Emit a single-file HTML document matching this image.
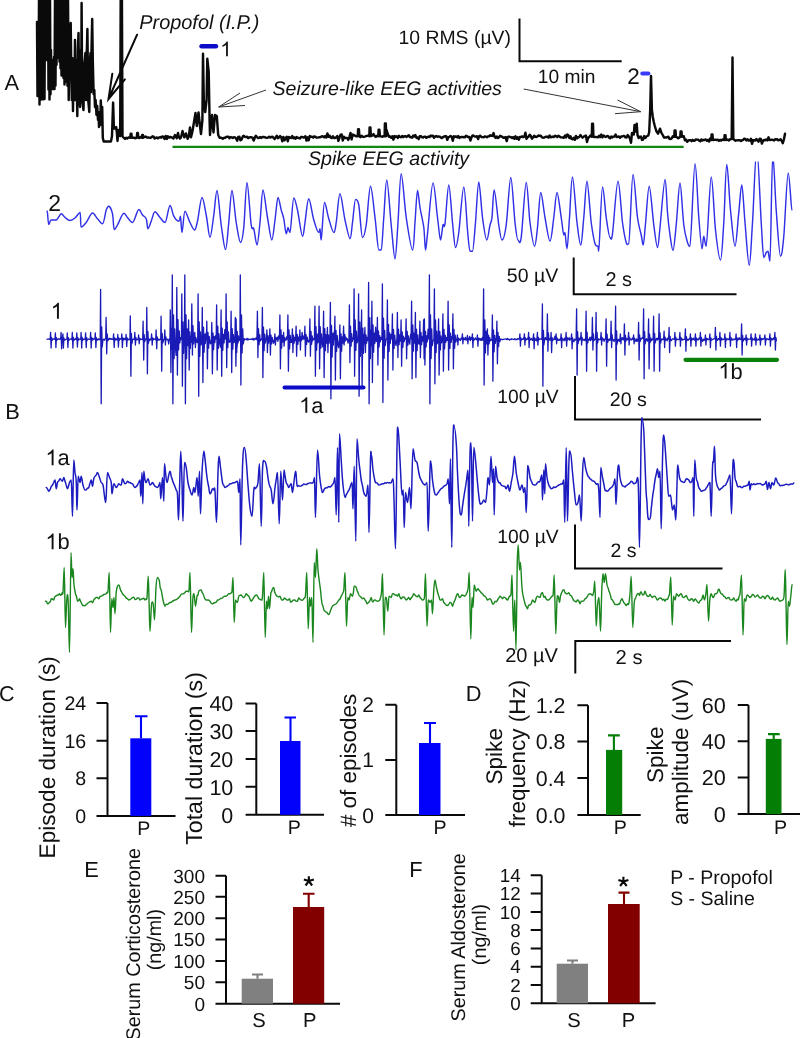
<!DOCTYPE html>
<html><head><meta charset="utf-8"><title>Figure</title>
<style>
html,body{margin:0;padding:0;background:#fff;}
body{width:800px;height:1038px;overflow:hidden;}
svg{display:block;font-family:"Liberation Sans",sans-serif;will-change:transform;}
text{text-rendering:geometricPrecision;}
</style></head><body>
<svg width="800" height="1038" viewBox="0 0 800 1038">
<rect width="800" height="1038" fill="#ffffff"/>
<path d="M37.0,22.0 L37.5,96.0 L38.0,22.0 L38.5,96.0 L39.0,-2.0 L39.5,104.6 L40.0,-2.0 L40.5,99.8 L41.0,-2.0 L41.5,75.0 L42.0,-2.0 L42.5,99.2 L43.0,-2.0 L43.5,99.3 L44.0,-2.0 L44.5,99.0 L45.0,-2.0 L45.5,60.0 L46.0,-2.0 L46.5,60.0 L47.0,-2.0 L47.5,60.0 L48.0,-2.0 L48.5,89.5 L49.0,-2.0 L49.5,99.4 L50.0,-2.0 L50.5,94.2 L51.0,50.0 L51.5,89.0 L52.0,60.0 L52.5,89.0 L53.0,64.3 L53.5,89.0 L54.0,56.9 L54.5,89.0 L55.0,-2.0 L55.5,85.5 L56.0,-2.0 L56.5,64.8 L57.0,-2.0 L57.5,57.8 L58.0,-2.0 L58.5,57.8 L59.0,-2.0 L59.5,61.6 L60.0,-2.0 L60.5,68.3 L61.0,-2.0 L61.5,75.5 L62.0,-2.0 L62.5,75.0 L63.0,-2.0 L63.5,77.9 L64.0,-2.0 L64.5,84.4 L65.0,-2.0 L65.5,81.8 L66.0,-2.0 L66.5,80.0 L67.0,-2.0 L67.5,85.8 L68.0,-2.0 L68.7,100.0 L69.3,60.0 L70.0,30.0 L70.7,23.0 L71.3,70.0 L71.8,100.0 L72.3,58.0 L73.0,111.0 L73.6,60.0 L74.3,100.0 L75.0,40.0 L75.7,100.0 L76.3,60.0 L77.3,116.0 L77.9,50.0 L78.5,33.0 L79.2,95.0 L80.0,107.0 L80.7,50.0 L81.2,100.0 L81.6,3.0 L82.2,100.0 L83.5,110.0 L84.2,65.0 L85.4,53.0 L86.0,100.0 L86.6,60.0 L87.4,29.0 L88.2,100.0 L89.3,112.0 L90.0,60.0 L90.5,53.0 L91.0,92.0 L91.5,50.0 L92.2,19.0 L92.8,60.0 L93.6,94.0 L94.3,90.0 L95.0,107.0 L95.6,100.0 L96.5,115.0 L97.2,106.0 L98.0,120.0 L98.5,112.0 L99.0,127.0 L99.8,118.0 L100.3,125.0 L100.8,100.4 L101.4,118.0 L101.9,123.0 L102.2,107.0 L102.8,138.0 L103.7,141.4 L111.0,141.4 L112.0,136.0 L113.1,102.6 L113.9,128.6 L115.3,128.6 L116.2,127.0 L116.8,132.0 L117.5,141.0 L118.6,130.0 L119.5,135.8 L120.2,136.0 L120.7,-3.0 L121.9,-3.0 L122.5,136.5 L125.0,139.0 L126.1,137.8 L127.2,138.6 L128.3,137.5 L129.4,137.5 L130.3,137.7 L130.7,133.7 L131.4,133.7 L131.8,137.7 L133.8,137.7 L134.9,138.2 L136.8,137.7 L137.2,133.0 L137.9,133.0 L138.3,137.7 L139.3,138.1 L140.4,137.0 L141.8,137.7 L142.2,135.0 L142.9,135.0 L143.3,137.7 L144.8,136.8 L145.9,136.6 L147.0,137.6 L148.1,137.5 L149.2,137.6 L150.3,137.9 L151.4,137.4 L152.5,136.3 L153.6,136.7 L154.7,138.5 L155.8,137.9 L156.9,137.5 L158.0,138.4 L159.1,137.5 L160.2,137.0 L161.3,137.7 L162.4,136.4 L163.5,136.9 L164.6,139.0 L165.7,136.0 L166.8,138.9 L167.9,136.3 L169.0,137.6 L170.1,136.9 L171.2,137.3 L172.3,137.6 L173.4,138.5 L175.0,135.0 L176.7,138.1 L178.0,133.0 L178.9,137.1 L180.0,138.6 L181.1,137.2 L182.5,131.0 L184.4,137.3 L186.0,133.5 L187.7,138.8 L188.8,136.1 L190.0,127.5 L191.0,137.3 L192.5,131.0 L195.5,113.0 L196.8,126.0 L198.5,112.5 L200.0,126.0 L201.0,134.0 L202.4,120.0 L203.0,53.7 L203.8,100.0 L205.2,112.0 L206.6,100.0 L207.3,58.7 L208.7,72.0 L209.6,120.0 L210.0,135.0 L212.0,115.0 L213.5,132.5 L215.0,115.0 L216.8,116.0 L218.2,135.0 L219.6,137.7 L220.7,137.6 L221.8,138.1 L222.9,138.8 L224.0,137.8 L225.1,137.9 L226.2,137.0 L227.3,136.8 L228.4,136.7 L229.5,138.2 L230.6,137.1 L231.7,137.4 L232.8,138.0 L233.9,137.3 L235.0,137.4 L236.1,138.4 L237.2,140.7 L238.3,136.9 L239.4,136.8 L240.5,140.3 L241.6,139.5 L242.7,136.6 L243.8,135.8 L244.9,136.9 L246.0,137.1 L247.1,136.8 L248.2,138.1 L249.3,137.4 L250.4,137.2 L251.5,137.2 L252.6,137.9 L253.7,140.5 L254.8,137.7 L255.9,135.7 L257.0,137.1 L258.1,138.0 L259.2,137.7 L260.3,137.1 L261.4,138.0 L262.5,136.9 L263.6,137.0 L264.7,137.3 L265.8,137.6 L266.9,137.9 L268.0,137.6 L269.1,136.8 L270.2,137.6 L271.3,136.9 L272.4,136.8 L273.5,137.7 L274.6,139.1 L275.7,137.4 L276.8,135.8 L277.9,138.1 L279.0,137.4 L280.1,136.1 L281.2,137.2 L282.3,141.2 L283.4,136.9 L284.5,140.3 L285.6,138.3 L286.7,136.8 L287.8,141.3 L288.9,136.9 L290.0,137.7 L291.1,137.9 L292.2,136.0 L293.3,138.3 L294.4,137.4 L295.5,138.8 L296.6,137.1 L297.7,137.8 L298.8,138.0 L299.9,138.5 L301.0,137.0 L302.1,136.9 L303.2,137.5 L304.3,137.2 L305.4,136.3 L306.5,140.6 L307.6,137.3 L308.7,140.3 L309.8,136.0 L310.9,136.8 L312.0,136.8 L313.1,137.6 L314.2,136.4 L315.3,136.7 L316.4,137.6 L317.5,137.6 L318.6,137.4 L319.7,137.2 L320.8,137.1 L321.9,136.3 L323.0,136.4 L324.1,137.3 L325.2,136.1 L326.3,137.5 L327.4,133.5 L328.5,136.8 L329.6,135.7 L330.7,137.6 L331.8,138.0 L332.9,136.3 L334.0,137.9 L335.1,137.9 L336.2,137.3 L337.3,136.0 L338.4,140.9 L339.5,137.6 L340.6,134.6 L341.7,134.4 L342.8,140.5 L343.9,136.7 L345.0,138.0 L346.1,137.9 L347.2,137.9 L348.3,139.9 L349.4,137.1 L350.5,133.0 L351.6,139.4 L352.7,134.6 L353.8,135.0 L354.9,135.7 L356.0,136.2 L357.8,136.2 L358.1,129.3 L358.9,129.3 L359.4,136.2 L360.4,137.2 L361.5,135.7 L362.6,136.7 L363.7,136.9 L364.8,136.6 L365.9,136.2 L367.0,135.8 L368.1,135.8 L369.3,136.2 L369.6,127.5 L370.4,127.5 L370.9,136.2 L372.5,135.5 L373.6,134.1 L374.7,136.0 L375.8,136.9 L376.9,135.8 L378.3,136.2 L378.6,129.8 L379.4,129.8 L379.9,136.2 L381.3,136.4 L382.4,136.7 L383.5,136.0 L384.6,136.2 L384.9,123.5 L385.8,123.5 L386.2,136.2 L386.6,130.0 L387.6,133.5 L389.0,136.7 L390.1,136.5 L391.2,137.8 L392.3,136.3 L393.4,139.7 L394.5,136.1 L395.6,136.9 L396.7,136.3 L397.8,137.9 L398.9,135.9 L400.0,136.9 L401.1,137.2 L402.2,136.0 L403.3,137.2 L404.4,136.2 L405.5,136.3 L406.6,136.9 L407.7,136.0 L408.8,135.2 L409.9,137.0 L411.0,137.3 L412.1,137.7 L413.2,135.6 L414.3,136.5 L415.4,135.1 L416.5,137.9 L417.6,137.5 L418.7,139.1 L419.8,136.3 L420.9,136.1 L422.0,137.1 L423.1,137.5 L424.2,136.6 L425.3,136.6 L426.4,137.8 L427.5,137.1 L428.6,136.6 L429.7,137.0 L430.8,135.6 L431.9,136.1 L433.0,135.8 L434.1,137.8 L435.2,136.5 L436.3,136.1 L437.4,136.8 L438.5,136.4 L439.6,136.6 L440.7,137.4 L441.8,138.1 L442.9,137.2 L444.0,136.6 L445.1,136.1 L446.2,136.3 L447.3,139.8 L448.4,137.2 L449.5,136.8 L450.6,135.9 L451.7,136.7 L452.8,140.7 L453.9,136.3 L455.0,136.8 L456.1,136.4 L457.2,137.4 L458.3,136.0 L459.4,137.9 L460.5,137.1 L461.6,137.0 L462.7,137.0 L463.8,137.2 L464.9,137.3 L466.0,135.7 L467.1,136.4 L468.2,137.1 L469.3,137.0 L470.4,140.5 L471.5,137.3 L472.6,135.4 L473.7,135.9 L474.8,136.5 L475.9,136.6 L477.0,136.3 L478.1,139.1 L479.2,136.1 L480.3,135.7 L481.4,137.0 L482.5,137.1 L483.6,137.3 L484.7,136.4 L485.8,136.6 L486.9,137.2 L488.0,136.4 L489.1,136.2 L490.2,135.3 L491.3,135.8 L492.4,135.9 L493.5,133.1 L494.6,136.9 L495.7,137.9 L496.8,136.5 L497.9,138.0 L499.0,137.2 L500.1,135.8 L501.2,136.5 L502.3,136.8 L503.4,137.8 L504.5,137.5 L505.6,137.0 L506.7,141.1 L507.8,137.0 L508.9,136.5 L510.0,137.0 L511.1,137.3 L512.2,138.1 L513.3,137.1 L514.4,138.7 L515.5,136.4 L516.6,138.8 L517.7,137.2 L518.8,139.7 L519.9,136.9 L521.0,136.9 L522.1,136.4 L523.2,137.1 L524.3,136.7 L525.4,132.7 L526.5,138.9 L527.6,137.4 L528.7,136.5 L529.8,134.7 L530.9,136.3 L532.0,138.7 L533.1,137.5 L534.2,135.7 L535.3,136.9 L536.4,137.0 L537.5,136.4 L538.6,135.5 L539.7,135.9 L540.8,135.8 L541.9,137.3 L543.0,137.7 L544.1,137.6 L545.2,137.0 L546.3,136.7 L547.4,136.6 L548.5,137.7 L549.6,135.5 L550.7,137.2 L551.8,137.0 L552.9,136.6 L554.0,137.0 L555.1,135.8 L556.2,136.1 L557.3,137.0 L558.4,135.7 L559.5,136.5 L560.6,137.3 L561.7,137.4 L562.8,137.5 L563.9,137.8 L565.0,135.4 L566.1,137.4 L567.2,134.6 L568.3,135.2 L569.4,138.1 L570.5,136.4 L571.6,138.9 L572.7,139.3 L573.8,137.8 L574.9,139.8 L576.0,135.9 L577.1,138.3 L578.2,137.3 L579.3,137.0 L580.4,135.1 L581.5,136.5 L582.6,137.6 L583.7,136.6 L584.8,136.1 L585.9,135.5 L587.0,142.0 L588.1,137.8 L589.2,137.1 L590.3,135.6 L591.8,136.8 L592.1,123.7 L593.0,123.7 L593.4,136.8 L594.7,137.0 L595.8,137.0 L596.9,137.1 L598.0,137.3 L599.1,135.7 L600.2,137.1 L601.3,134.6 L602.4,137.4 L603.5,135.5 L604.6,136.5 L605.7,137.0 L606.8,136.1 L607.9,135.9 L609.0,137.5 L610.1,138.3 L611.2,136.5 L612.3,137.4 L613.4,136.6 L614.5,136.6 L615.6,134.6 L616.7,137.1 L617.8,136.9 L618.9,136.5 L620.0,137.8 L621.1,136.4 L622.2,136.5 L623.3,136.0 L624.4,136.0 L625.5,137.4 L626.6,137.5 L627.7,135.1 L628.8,136.5 L629.9,138.5 L631.0,142.7 L632.0,133.0 L633.8,134.5 L634.5,125.0 L635.3,131.5 L636.7,123.7 L637.5,135.0 L638.7,138.1 L639.8,136.7 L640.9,136.6 L642.0,139.9 L643.1,139.5 L644.2,136.1 L645.3,138.0 L646.4,136.5 L648.3,135.5 L649.2,132.0 L650.2,110.0 L651.0,76.0 L651.9,110.0 L652.8,117.0 L653.8,122.0 L654.8,126.0 L656.3,131.0 L658.0,133.7 L660.0,128.7 L661.3,132.5 L663.0,135.5 L664.0,137.5 L665.1,137.4 L666.2,137.5 L667.3,137.1 L668.4,136.7 L669.5,138.9 L670.6,139.1 L671.7,138.3 L672.8,136.3 L674.3,136.8 L674.6,130.5 L675.5,130.5 L675.9,136.8 L677.2,137.3 L678.3,138.2 L680.3,136.8 L680.6,131.5 L681.5,131.5 L681.9,136.8 L683.8,136.2 L684.9,140.2 L686.0,139.6 L687.1,141.8 L688.2,140.6 L689.3,140.1 L690.4,140.1 L691.5,141.1 L692.6,139.9 L693.7,140.7 L694.8,140.5 L695.9,139.5 L697.0,139.6 L698.1,139.7 L699.2,140.6 L700.3,141.3 L701.4,139.5 L702.5,140.5 L703.6,139.9 L704.7,139.9 L705.8,139.4 L706.9,140.8 L708.0,139.8 L709.1,141.5 L710.2,138.5 L711.3,140.0 L711.6,134.5 L712.5,134.5 L712.9,140.0 L714.6,139.8 L715.7,139.8 L716.8,140.0 L717.9,139.8 L719.0,140.7 L720.1,139.9 L721.2,140.6 L722.3,139.5 L724.3,140.0 L724.6,135.3 L725.5,135.3 L725.9,140.0 L727.8,139.6 L728.9,140.5 L730.0,139.3 L731.7,139.0 L732.5,57.5 L733.3,139.0 L735.5,140.7 L736.6,140.3 L737.7,140.4 L738.8,140.2 L739.9,140.2 L741.0,140.9 L742.1,140.2 L743.2,139.9 L744.3,138.7 L745.4,139.0 L746.5,140.4 L747.6,139.4 L748.7,140.6 L749.8,140.5 L750.9,138.8 L752.0,143.8 L753.1,140.1 L754.2,140.2 L755.3,140.5 L756.4,139.1 L757.5,140.4 L758.6,141.6 L759.7,138.7 L760.8,138.9 L761.9,143.6 L763.0,140.8 L764.1,140.0 L765.2,140.3 L766.3,139.4 L767.4,140.4 L768.5,137.3 L769.6,139.9 L770.7,139.9 L771.8,139.7 L772.9,139.9 L774.0,140.5 L775.1,139.3 L776.2,139.5 L777.3,139.3 L778.4,140.3 L779.5,139.8 L780.6,139.3 L781.7,140.9 L782.8,143.2 L783.9,139.5 L785.0,133.7" fill="none" stroke="#0a0a0a" stroke-width="2.45" stroke-linejoin="round" stroke-linecap="round" />
<path d="M137.1,34.7 L108.5,99 M112.3,73.8 L108.5,99 L124.9,79.4" fill="none" stroke="#0a0a0a" stroke-width="2" stroke-linecap="round"/>
<path d="M266,90 L218.7,107 M240,93 L218.7,107 L245,105.5" fill="none" stroke="#333" stroke-width="1"/>
<path d="M523.7,89 L640.7,111.7 M617.5,100 L640.7,111.7 L615,113.7" fill="none" stroke="#333" stroke-width="1"/>
<line x1="201.5" y1="46.3" x2="216" y2="46.3" stroke="#0c0cc8" stroke-width="4.4" stroke-linecap="round"/>
<line x1="642.3" y1="73.4" x2="648.4" y2="73.4" stroke="#3a3aff" stroke-width="4" stroke-linecap="round"/>
<line x1="172.5" y1="146.9" x2="683.7" y2="146.9" stroke="#128612" stroke-width="2.1"/>
<path d="M519.5,18.5 V61.2 H621.7" fill="none" stroke="#0a0a0a" stroke-width="2"/>
<text x="4.5" y="90" font-size="21.8" text-anchor="start" fill="#111" >A</text>
<text x="139.3" y="28.7" font-size="19.9" text-anchor="start" fill="#111" font-style="italic" >Propofol (I.P.)</text>
<path transform="translate(220.2,56.3) scale(0.01006,-0.01006)" d="M763 0H583V1147Q518 1085 412.5 1023T223 930V1104Q373 1174.5 485 1275T644 1466H763Z" fill="#111"/>
<text x="272.5" y="95" font-size="19.57" text-anchor="start" fill="#111" font-style="italic" >Seizure-like EEG activities</text>
<text x="308" y="164.6" font-size="19.6" text-anchor="start" fill="#111" font-style="italic" >Spike EEG activity</text>
<text x="398.5" y="44" font-size="19.4" text-anchor="start" fill="#111" >10 RMS (µV)</text>
<text x="537.8" y="82.8" font-size="19.2" text-anchor="start" fill="#111" >10 min</text>
<text x="627.3" y="83.5" font-size="22.5" text-anchor="start" fill="#111" >2</text>
<clipPath id="c2"><rect x="0" y="161.6" width="800" height="200"/></clipPath>
<g clip-path="url(#c2)"><path d="M47.0,211.2 C47.1,211.2 47.2,210.8 47.5,213.0 C47.8,215.2 48.1,224.5 48.8,224.5 C49.4,224.5 50.0,220.0 51.2,220.0 C52.5,220.0 54.6,220.0 56.2,220.0 C57.9,220.0 59.8,213.8 61.2,213.8 C62.7,213.8 63.5,216.4 65.0,217.5 C66.5,218.6 68.3,220.5 70.0,220.5 C71.7,220.5 73.3,219.3 75.0,218.0 C76.7,216.7 79.0,212.5 80.0,212.5 C81.0,212.5 80.2,227.0 81.2,227.0 C82.3,227.0 84.4,224.8 86.2,222.5 C88.1,220.2 90.6,213.0 92.5,213.0 C94.4,213.0 95.8,217.0 97.5,218.8 C99.2,220.5 101.0,223.8 102.5,223.8 C104.0,223.8 105.2,212.9 106.2,210.0 C107.3,207.1 107.7,206.2 108.8,206.2 C109.8,206.2 111.6,209.9 112.5,213.8 C113.4,217.6 113.4,229.5 114.2,229.5 C115.1,229.5 115.9,227.7 117.5,225.0 C119.1,222.3 122.1,213.2 123.8,213.2 C125.4,213.2 126.0,216.0 127.5,217.5 C129.0,219.0 130.6,222.5 132.5,222.5 C134.4,222.5 137.1,209.5 138.8,209.5 C140.4,209.5 141.2,213.5 142.5,215.0 C143.8,216.5 145.3,216.5 146.2,218.8 C147.2,221.0 147.2,228.8 148.0,228.8 C148.8,228.8 150.1,224.1 151.2,221.2 C152.4,218.4 153.5,211.8 155.0,211.8 C156.5,211.8 158.3,215.7 160.0,217.5 C161.7,219.3 163.3,222.5 165.0,222.5 C166.7,222.5 168.5,205.5 170.0,205.5 C171.5,205.5 172.3,213.6 173.8,216.2 C175.2,218.9 177.6,221.2 178.8,221.2 C179.9,221.2 180.0,216.2 180.5,216.2 C181.0,216.2 181.2,232.5 182.0,232.5 C182.8,232.5 183.7,211.2 185.0,211.2 C186.3,211.2 188.4,219.4 190.0,222.5 C191.6,225.6 193.2,230.0 194.5,230.0 C195.8,230.0 196.2,226.7 197.5,221.2 C198.8,215.8 200.5,197.5 202.0,197.5 C203.5,197.5 204.9,208.3 206.2,215.0 C207.6,221.7 208.8,237.5 210.0,237.5 C211.2,237.5 212.6,222.8 213.8,215.0 C214.9,207.2 215.8,190.5 217.0,190.5 C218.2,190.5 219.8,215.2 221.2,225.0 C222.7,234.8 224.2,249.5 225.5,249.5 C226.8,249.5 227.7,232.3 228.8,222.5 C229.8,212.7 230.8,190.5 232.0,190.5 C233.2,190.5 234.8,213.8 236.2,222.5 C237.7,231.2 239.2,242.5 240.5,242.5 C241.8,242.5 242.7,237.5 243.8,227.5 C244.8,217.5 245.8,182.5 247.0,182.5 C248.2,182.5 250.1,217.3 251.2,225.0 C252.4,232.7 252.8,225.4 253.8,228.8 C254.7,232.1 256.0,245.0 257.0,245.0 C258.0,245.0 259.0,231.7 260.0,222.5 C261.0,213.3 261.8,190.0 263.0,190.0 C264.2,190.0 266.0,209.2 267.5,217.5 C269.0,225.8 270.5,240.0 271.8,240.0 C273.0,240.0 274.0,227.1 275.0,220.0 C276.0,212.9 277.0,197.5 278.0,197.5 C279.0,197.5 280.3,206.5 281.2,210.0 C282.2,213.5 282.9,214.8 283.8,218.8 C284.6,222.7 285.5,233.8 286.2,233.8 C287.0,233.8 287.4,227.5 288.0,227.5 C288.6,227.5 289.0,232.5 290.0,232.5 C291.0,232.5 292.5,198.0 293.8,198.0 C295.0,198.0 296.0,203.6 297.5,210.0 C299.0,216.4 301.2,236.2 302.5,236.2 C303.8,236.2 304.0,228.8 305.0,222.5 C306.0,216.2 307.3,198.8 308.8,198.8 C310.2,198.8 312.1,214.4 313.8,220.0 C315.4,225.6 317.7,232.5 318.8,232.5 C319.8,232.5 319.6,228.8 320.0,228.8 C320.4,228.8 320.5,240.0 321.2,240.0 C322.0,240.0 323.2,202.5 324.5,202.5 C325.8,202.5 327.2,213.8 328.8,218.8 C330.3,223.8 332.5,232.5 333.8,232.5 C335.0,232.5 335.2,229.0 336.2,222.5 C337.3,216.0 338.5,193.8 340.0,193.8 C341.5,193.8 343.3,212.5 345.0,220.0 C346.7,227.5 348.8,238.8 350.0,238.8 C351.2,238.8 351.6,229.0 352.5,222.5 C353.4,216.0 354.5,199.5 355.5,199.5 C356.5,199.5 357.6,198.7 358.8,205.0 C359.9,211.3 361.2,237.5 362.5,237.5 C363.8,237.5 364.9,233.5 366.2,225.0 C367.6,216.5 369.0,186.2 370.5,186.2 C372.0,186.2 373.6,206.9 375.0,217.5 C376.4,228.1 377.7,250.0 378.8,250.0 C379.8,250.0 380.4,250.0 381.2,250.0 C382.1,250.0 382.8,229.2 383.8,217.5 C384.7,205.8 385.5,180.0 386.8,180.0 C388.0,180.0 389.9,211.9 391.2,225.0 C392.6,238.1 393.9,258.8 395.0,258.8 C396.1,258.8 397.0,236.7 398.0,222.5 C399.0,208.3 399.9,173.8 401.2,173.8 C402.6,173.8 404.4,204.8 406.2,217.5 C408.1,230.2 411.0,250.0 412.5,250.0 C414.0,250.0 414.2,232.4 415.0,222.5 C415.8,212.6 416.7,190.5 417.5,190.5 C418.3,190.5 419.0,201.3 420.0,207.5 C421.0,213.7 422.8,220.4 423.8,227.5 C424.7,234.6 424.9,250.0 425.5,250.0 C426.1,250.0 426.2,244.9 427.5,233.8 C428.8,222.6 431.3,183.0 433.0,183.0 C434.7,183.0 436.2,208.0 437.5,217.5 C438.8,227.0 439.6,240.0 440.5,240.0 C441.4,240.0 442.2,227.7 443.0,225.0 C443.8,222.3 444.0,230.4 445.0,223.8 C446.0,217.1 447.5,185.0 448.8,185.0 C450.0,185.0 451.4,212.1 452.5,222.5 C453.6,232.9 454.5,247.5 455.5,247.5 C456.5,247.5 457.4,242.6 458.8,232.5 C460.1,222.4 462.3,187.0 463.8,187.0 C465.2,187.0 466.5,219.3 467.5,230.0 C468.5,240.7 469.2,251.2 470.0,251.2 C470.8,251.2 471.6,251.2 472.5,251.2 C473.4,251.2 474.5,234.0 475.5,222.5 C476.5,211.0 477.6,182.0 478.8,182.0 C479.9,182.0 481.2,207.8 482.5,217.5 C483.8,227.2 485.5,240.0 486.8,240.0 C488.0,240.0 489.1,228.8 490.0,225.0 C490.9,221.2 491.3,223.3 492.0,217.5 C492.7,211.7 493.1,190.0 494.2,190.0 C495.4,190.0 497.5,216.7 498.8,225.0 C500.0,233.3 500.8,240.0 502.0,240.0 C503.2,240.0 504.8,235.4 506.2,225.0 C507.7,214.6 509.3,177.5 510.8,177.5 C512.2,177.5 513.8,212.1 515.0,222.5 C516.2,232.9 517.0,240.0 518.0,240.0 C519.0,240.0 519.9,247.1 521.2,237.5 C522.6,227.9 524.8,182.5 526.2,182.5 C527.7,182.5 528.6,211.9 530.0,222.5 C531.4,233.1 533.2,246.2 534.5,246.2 C535.8,246.2 536.5,236.5 537.5,227.5 C538.5,218.5 539.5,192.5 540.8,192.5 C542.0,192.5 543.5,209.4 545.0,217.5 C546.5,225.6 548.5,241.2 550.0,241.2 C551.5,241.2 552.6,225.6 553.8,217.5 C554.9,209.4 555.8,192.5 557.0,192.5 C558.2,192.5 560.1,210.4 561.2,217.5 C562.4,224.6 563.1,235.0 563.8,235.0 C564.4,235.0 564.5,232.5 565.0,232.5 C565.5,232.5 566.2,248.8 567.0,248.8 C567.8,248.8 568.6,229.5 569.5,217.5 C570.4,205.5 571.2,177.0 572.5,177.0 C573.8,177.0 575.6,211.2 577.0,222.5 C578.4,233.8 579.6,245.0 580.8,245.0 C581.9,245.0 582.7,228.1 583.8,217.5 C584.8,206.9 585.8,181.2 587.0,181.2 C588.2,181.2 589.9,212.1 591.2,222.5 C592.6,232.9 593.9,239.8 595.0,243.8 C596.1,247.7 597.4,245.0 598.0,246.2 C598.6,247.5 598.0,251.2 598.8,251.2 C599.5,251.2 601.2,187.0 602.5,187.0 C603.8,187.0 605.0,209.1 606.2,217.5 C607.5,225.9 609.0,237.5 610.0,237.5 C611.0,237.5 611.2,243.1 612.5,233.8 C613.8,224.4 616.3,181.2 618.0,181.2 C619.7,181.2 621.1,212.3 622.5,222.5 C623.9,232.7 625.2,239.0 626.2,242.5 C627.3,246.0 627.6,243.8 628.8,243.8 C629.9,243.8 631.5,174.5 633.0,174.5 C634.5,174.5 636.1,207.4 637.5,217.5 C638.9,227.6 640.3,230.4 641.2,235.0 C642.2,239.6 642.5,245.0 643.2,245.0 C644.0,245.0 644.5,233.5 645.5,223.8 C646.5,214.0 647.9,186.2 649.2,186.2 C650.6,186.2 652.4,214.8 653.8,225.0 C655.1,235.2 656.5,247.5 657.5,247.5 C658.5,247.5 658.8,238.8 660.0,227.5 C661.2,216.2 663.8,179.5 665.0,179.5 C666.2,179.5 666.7,203.2 667.5,212.5 C668.3,221.8 669.1,228.7 670.0,235.0 C670.9,241.3 672.0,250.5 673.0,250.5 C674.0,250.5 675.1,236.2 676.2,225.0 C677.4,213.8 678.8,183.0 680.0,183.0 C681.2,183.0 682.5,215.1 683.8,225.0 C685.0,234.9 686.5,239.0 687.5,242.5 C688.5,246.0 688.8,246.2 690.0,246.2 C691.2,246.2 693.5,163.8 695.0,163.8 C696.5,163.8 697.6,203.3 698.8,217.5 C699.9,231.7 701.2,248.8 702.0,248.8 C702.8,248.8 703.0,236.2 703.8,236.2 C704.5,236.2 705.0,246.2 706.2,246.2 C707.5,246.2 709.7,177.0 711.2,177.0 C712.8,177.0 714.0,216.2 715.5,230.0 C717.0,243.8 719.1,260.0 720.5,260.0 C721.9,260.0 722.7,238.4 723.8,222.5 C724.8,206.6 725.6,164.5 726.8,164.5 C727.9,164.5 729.1,196.4 730.5,210.0 C731.9,223.6 733.6,246.2 735.0,246.2 C736.4,246.2 737.6,222.7 738.8,212.5 C739.9,202.3 740.7,185.0 741.8,185.0 C742.8,185.0 743.8,209.1 745.0,222.5 C746.2,235.9 748.0,265.5 749.2,265.5 C750.5,265.5 751.2,242.0 752.5,222.5 C753.8,203.0 755.3,148.8 756.8,148.8 C758.2,148.8 760.1,204.4 761.2,222.5 C762.4,240.6 762.9,257.5 763.8,257.5 C764.6,257.5 765.5,253.5 766.2,252.5 C767.0,251.5 767.4,251.2 768.0,251.2 C768.6,251.2 769.2,261.2 770.0,261.2 C770.8,261.2 771.7,154.5 772.8,154.5 C773.8,154.5 775.0,193.0 776.2,210.0 C777.5,227.0 779.2,256.2 780.5,256.2 C781.8,256.2 782.5,250.1 783.8,236.2 C785.0,222.4 786.9,173.0 788.2,173.0 C789.6,173.0 791.2,210.0 791.8,210.0" fill="none" stroke="#3030e6" stroke-width="1.45" stroke-linejoin="round" stroke-linecap="round"/></g>
<text x="48.2" y="210.6" font-size="23" text-anchor="start" fill="#111" >2</text>
<path d="M573.7,257.5 V294.2 H736.5" fill="none" stroke="#0a0a0a" stroke-width="2"/>
<text x="506.8" y="282" font-size="19.5" text-anchor="start" fill="#111" >50 µV</text>
<text x="605.4" y="286.2" font-size="19.9" text-anchor="start" fill="#111" >2 s</text>
<path d="M47.0,339.2 L47.8,339.2 L48.5,339.2 L49.2,338.9 L50.0,339.6 L50.1,339.6 L50.6,332.5 L51.1,348.0 L51.6,337.5 L52.1,340.3 L52.9,339.2 L53.6,338.9 L54.4,339.1 L54.9,339.4 L55.4,333.0 L55.9,347.5 L56.4,337.6 L56.9,340.2 L57.6,339.3 L58.4,338.9 L59.1,339.3 L59.9,338.9 L60.6,339.3 L61.1,332.5 L61.6,348.8 L62.1,337.5 L62.6,340.3 L62.4,339.4 L62.9,333.8 L63.4,348.0 L63.9,337.8 L64.4,340.3 L65.2,339.7 L65.9,339.3 L66.7,339.2 L66.9,339.1 L67.3,333.0 L67.9,347.5 L68.4,337.6 L68.9,340.2 L69.7,339.3 L70.4,339.2 L71.2,338.9 L71.9,339.7 L72.3,332.5 L72.9,348.0 L73.4,337.5 L73.9,340.3 L74.7,339.5 L75.4,338.8 L76.2,339.5 L76.4,338.4 L76.8,333.0 L77.4,347.0 L77.9,337.6 L78.4,340.1 L79.2,339.1 L79.9,339.5 L80.7,339.2 L81.1,332.5 L81.7,348.0 L82.2,337.5 L82.7,340.3 L83.4,339.0 L84.2,339.6 L84.9,338.9 L85.2,339.2 L85.6,333.0 L86.2,347.5 L86.7,337.6 L87.2,340.2 L87.9,339.6 L88.7,339.0 L89.4,339.3 L90.2,339.0 L90.6,332.5 L91.2,348.0 L91.7,337.5 L92.2,340.3 L92.9,338.5 L93.7,339.6 L94.4,339.0 L94.9,338.4 L95.3,333.0 L95.9,347.5 L96.4,337.6 L96.9,340.2 L97.7,339.9 L98.4,338.8 L99.2,339.7 L99.9,339.2 L100.2,339.4 L100.6,289.5 L101.2,403.8 L101.7,326.8 L102.2,346.9 L102.9,340.1 L103.7,339.1 L104.4,340.2 L105.2,338.8 L105.7,338.4 L106.1,317.5 L106.7,353.8 L107.2,333.8 L107.7,340.9 L108.4,339.7 L109.2,338.3 L109.9,339.4 L110.7,338.5 L111.4,339.3 L112.2,338.9 L112.9,339.6 L113.2,339.0 L113.6,333.8 L114.2,347.5 L114.7,337.8 L115.2,340.2 L115.9,338.7 L116.7,339.8 L117.4,339.8 L117.8,334.5 L118.4,347.0 L118.9,338.0 L119.4,340.1 L120.2,338.7 L120.9,339.2 L121.4,339.1 L121.8,333.8 L122.4,347.5 L122.9,337.8 L123.4,340.2 L124.2,338.3 L124.9,339.6 L125.7,338.9 L126.1,334.5 L126.7,346.5 L127.2,338.0 L127.7,340.1 L128.4,339.1 L129.2,339.7 L129.9,339.3 L130.3,315.8 L130.9,376.2 L131.4,333.3 L131.9,343.6 L132.7,339.2 L133.4,339.3 L134.2,338.9 L134.4,339.5 L134.8,332.5 L135.4,345.0 L135.9,337.5 L136.4,339.9 L137.2,339.9 L137.9,339.0 L138.2,339.1 L138.6,335.0 L139.2,343.8 L139.7,338.1 L140.2,339.7 L140.9,339.4 L141.7,339.1 L142.4,339.6 L142.7,338.8 L143.1,321.2 L143.7,360.0 L144.2,334.7 L144.7,341.7 L145.4,339.2 L146.2,339.2 L146.4,339.5 L146.8,307.5 L147.4,373.8 L147.9,331.3 L148.4,343.3 L149.2,339.0 L149.9,340.5 L150.7,338.9 L151.2,339.1 L151.6,333.8 L152.2,345.0 L152.7,337.8 L153.2,339.9 L153.9,338.7 L154.7,339.2 L155.4,339.8 L155.7,339.6 L156.1,330.0 L156.7,348.8 L157.2,336.9 L157.7,340.3 L158.4,339.1 L159.2,340.0 L159.9,339.2 L160.7,339.6 L161.1,316.2 L161.7,371.2 L162.2,333.5 L162.7,343.0 L163.4,340.8 L164.2,338.6 L164.4,338.6 L164.8,330.0 L165.4,345.0 L165.9,336.9 L166.4,339.9 L167.2,339.5 L167.9,339.2 L168.7,344.0 L169.4,339.0 L169.9,339.6 L170.3,310.0 L170.9,372.5 L171.5,328.1 L172.1,349.2 L172.7,334.5 L173.3,342.5 L171.9,339.1 L172.3,275.0 L172.9,403.8 L173.5,314.8 L174.1,358.6 L174.7,328.9 L175.3,345.7 L176.1,355.4 L176.4,339.6 L176.8,287.5 L177.4,375.0 L178.0,319.6 L178.6,349.9 L179.2,330.9 L179.8,342.8 L180.6,337.6 L181.4,339.5 L181.8,293.8 L182.4,386.2 L183.0,321.9 L183.6,353.3 L184.2,331.9 L184.8,343.9 L184.4,339.3 L184.8,275.0 L185.4,403.8 L186.0,314.8 L186.6,358.6 L187.2,328.9 L187.8,345.7 L188.2,339.5 L188.6,320.0 L189.2,370.0 L189.8,331.9 L190.3,348.4 L190.9,336.1 L191.6,342.3 L191.4,338.6 L191.8,303.8 L192.4,355.0 L193.0,325.7 L193.6,343.9 L194.2,333.5 L194.8,340.8 L194.4,338.6 L194.8,332.5 L195.4,347.5 L195.9,337.5 L196.4,340.2 L197.2,342.7 L197.7,338.8 L198.1,293.8 L198.7,396.2 L199.2,321.9 L199.8,356.3 L200.4,331.9 L201.1,344.9 L201.9,338.6 L202.3,307.5 L202.9,382.5 L203.5,327.2 L204.1,352.2 L204.7,334.1 L205.3,343.5 L206.1,333.0 L206.4,339.8 L206.8,321.2 L207.4,368.8 L208.0,332.4 L208.6,348.1 L209.2,336.3 L209.8,342.2 L210.6,343.9 L211.4,338.7 L211.8,322.5 L212.4,373.8 L213.0,332.9 L213.6,349.6 L214.2,336.5 L214.8,342.7 L215.6,335.7 L216.2,338.8 L216.6,305.0 L217.2,370.0 L217.8,326.2 L218.3,348.4 L218.9,333.7 L219.6,342.3 L220.3,347.2 L220.7,339.1 L221.1,310.0 L221.7,376.2 L222.2,328.1 L222.8,350.3 L223.4,334.5 L224.1,342.9 L224.8,329.6 L225.7,339.2 L226.1,293.8 L226.7,367.5 L227.2,321.9 L227.8,347.7 L228.4,331.9 L229.1,342.0 L229.8,342.3 L230.7,339.4 L231.1,311.2 L231.7,372.5 L232.2,328.6 L232.8,349.2 L233.4,334.7 L234.1,342.5 L230.7,339.8 L231.1,312.5 L231.7,372.5 L232.2,329.1 L232.8,349.2 L233.4,334.9 L234.1,342.5 L234.9,338.8 L235.3,317.5 L235.9,366.2 L236.5,331.0 L237.1,347.3 L237.7,335.7 L238.3,341.9 L235.7,339.7 L236.1,318.8 L236.7,352.5 L237.2,331.4 L237.8,343.2 L238.4,335.9 L239.1,340.5 L239.9,339.8 L240.3,275.0 L240.9,385.0 L241.5,314.8 L242.1,352.9 L242.7,328.9 L243.3,343.8 L244.1,338.6 L244.8,339.7 L245.6,339.2 L246.3,339.7 L247.1,338.2 L247.8,340.1 L248.6,339.0 L249.3,339.4 L250.1,339.4 L250.8,339.4 L251.6,338.9 L252.3,339.6 L253.1,338.2 L253.8,340.2 L254.6,338.7 L255.3,339.3 L256.1,337.7 L256.9,339.9 L257.4,311.2 L257.9,357.5 L258.5,328.6 L259.1,344.7 L259.7,334.7 L260.3,341.0 L261.1,339.4 L261.9,339.6 L262.4,307.5 L262.9,377.5 L263.5,327.2 L264.1,350.7 L264.7,334.1 L265.3,343.0 L266.1,338.4 L266.4,339.0 L266.9,330.0 L267.4,352.5 L268.0,335.7 L268.6,343.2 L269.2,337.7 L269.8,340.5 L269.4,339.6 L269.9,328.8 L270.4,355.0 L271.0,335.2 L271.6,343.9 L272.2,337.5 L272.8,340.8 L273.6,343.4 L274.4,339.6 L274.9,333.8 L275.4,345.0 L275.9,337.8 L276.4,339.9 L277.1,337.1 L277.9,341.3 L278.6,335.8 L279.4,338.9 L279.9,315.0 L280.4,368.8 L281.0,330.0 L281.6,348.1 L282.2,335.3 L282.8,342.2 L283.1,339.6 L283.6,332.5 L284.1,346.2 L284.6,337.5 L285.1,340.0 L285.9,340.5 L286.6,336.9 L287.4,339.2 L287.9,315.0 L288.4,371.2 L289.0,330.0 L289.6,348.8 L290.2,335.3 L290.8,342.4 L291.6,342.3 L291.9,338.3 L292.4,328.8 L292.9,352.5 L293.5,335.2 L294.1,343.2 L294.7,337.5 L295.3,340.5 L295.6,339.3 L296.1,326.2 L296.6,356.2 L297.2,334.3 L297.9,344.3 L298.4,337.1 L299.1,340.9 L299.4,338.9 L299.9,330.0 L300.4,350.0 L300.9,336.9 L301.4,340.5 L302.1,332.4 L302.9,339.7 L303.6,336.1 L304.4,339.0 L304.9,326.2 L305.4,356.2 L306.0,334.3 L306.6,344.3 L307.2,337.1 L307.8,340.9 L308.6,342.2 L309.4,339.5 L309.9,318.8 L310.4,356.2 L311.0,331.4 L311.6,344.3 L312.2,335.9 L312.8,340.9 L313.6,338.3 L314.4,339.5 L314.9,306.2 L315.4,376.2 L316.0,326.7 L316.6,350.3 L317.2,333.9 L317.8,342.9 L318.6,339.4 L319.1,306.2 L319.6,368.8 L320.2,326.7 L320.9,348.1 L321.4,333.9 L322.1,342.2 L322.8,346.9 L323.1,339.7 L323.6,311.2 L324.1,377.5 L324.8,328.6 L325.4,350.7 L325.9,334.7 L326.6,343.0 L326.9,339.1 L327.4,327.5 L327.9,352.5 L328.5,334.8 L329.1,343.2 L329.7,337.3 L330.3,340.5 L329.9,339.0 L330.4,302.5 L330.9,398.8 L331.5,325.3 L332.1,357.1 L332.7,333.3 L333.3,345.2 L334.1,331.9 L334.4,339.4 L334.9,316.2 L335.4,380.0 L336.0,330.5 L336.6,351.4 L337.2,335.5 L337.8,343.3 L338.6,347.7 L339.4,339.5 L339.9,325.0 L340.4,378.8 L341.0,333.8 L341.6,351.1 L342.2,336.9 L342.8,343.2 L343.1,340.0 L343.6,326.2 L344.1,345.0 L344.8,334.3 L345.4,340.9 L345.9,337.1 L346.6,339.8 L347.3,338.8 L348.1,343.2 L348.9,339.2 L349.4,305.0 L349.9,362.5 L350.5,326.2 L351.1,346.2 L351.7,333.7 L352.3,341.5 L353.1,338.0 L353.6,339.2 L354.1,288.8 L354.6,376.2 L355.2,320.0 L355.9,350.3 L356.4,331.1 L357.1,342.9 L357.8,339.9 L358.1,339.1 L358.6,293.8 L359.1,396.2 L359.8,321.9 L360.4,356.3 L360.9,331.9 L361.6,344.9 L361.1,339.6 L361.6,310.0 L362.1,386.2 L362.8,328.1 L363.4,353.3 L363.9,334.5 L364.6,343.9 L364.4,339.2 L364.9,327.5 L365.4,352.5 L366.0,334.8 L366.6,343.2 L367.2,337.3 L367.8,340.5 L368.1,338.9 L368.6,282.5 L369.1,403.8 L369.8,317.7 L370.4,358.6 L370.9,330.1 L371.6,345.7 L371.4,338.9 L371.9,301.2 L372.4,382.5 L373.0,324.8 L373.6,352.2 L374.2,333.1 L374.8,343.5 L375.6,327.2 L376.3,341.6 L376.9,339.4 L377.4,317.5 L377.9,365.0 L378.5,331.0 L379.1,346.9 L379.7,335.7 L380.3,341.8 L381.1,337.3 L381.9,339.4 L382.4,283.8 L382.9,402.5 L383.5,318.1 L384.1,358.2 L384.7,330.3 L385.3,345.5 L386.1,339.6 L386.9,338.4 L387.4,300.0 L387.9,380.0 L388.5,324.3 L389.1,351.4 L389.7,332.9 L390.3,343.3 L391.1,334.5 L391.9,338.9 L392.4,313.8 L392.9,370.0 L393.5,329.5 L394.1,348.4 L394.7,335.1 L395.3,342.3 L396.1,345.7 L396.9,338.6 L397.4,312.5 L397.9,357.5 L398.5,329.1 L399.1,344.7 L399.7,334.9 L400.3,341.0 L400.6,338.9 L401.1,320.0 L401.6,366.2 L402.2,331.9 L402.9,347.3 L403.4,336.1 L404.1,341.9 L404.8,337.9 L405.6,339.0 L406.1,318.8 L406.6,358.8 L407.2,331.4 L407.9,345.1 L408.4,335.9 L409.1,341.2 L409.8,344.1 L410.6,334.2 L411.1,338.7 L411.6,301.2 L412.1,378.8 L412.8,324.8 L413.4,351.1 L413.9,333.1 L414.6,343.2 L414.9,339.9 L415.4,312.5 L415.9,377.5 L416.5,329.1 L417.1,350.7 L417.7,334.9 L418.3,343.0 L419.1,344.1 L419.4,339.5 L419.9,321.2 L420.4,357.5 L421.0,332.4 L421.6,344.7 L422.2,336.3 L422.8,341.0 L423.1,338.9 L423.6,320.0 L424.1,358.8 L424.8,331.9 L425.4,345.1 L425.9,336.1 L426.6,341.2 L423.9,339.3 L424.4,318.8 L424.9,365.0 L425.5,331.4 L426.1,346.9 L426.7,335.9 L427.3,341.8 L428.1,329.1 L428.9,339.2 L429.4,275.0 L429.9,403.8 L430.5,314.8 L431.1,358.6 L431.7,328.9 L432.3,345.7 L433.1,340.6 L433.9,339.2 L434.4,288.8 L434.9,383.8 L435.5,320.0 L436.1,352.6 L436.7,331.1 L437.3,343.7 L438.1,339.4 L438.6,318.8 L439.1,375.0 L439.8,331.4 L440.4,349.9 L440.9,335.9 L441.6,342.8 L442.4,339.4 L442.9,313.8 L443.4,371.2 L444.0,329.5 L444.6,348.8 L445.2,335.1 L445.8,342.4 L446.6,337.3 L447.3,340.3 L447.6,339.2 L448.1,301.2 L448.6,370.0 L449.2,324.8 L449.9,348.4 L450.4,333.1 L451.1,342.3 L451.8,336.6 L452.4,339.2 L452.9,313.8 L453.4,368.8 L454.0,329.5 L454.6,348.1 L455.2,335.1 L455.8,342.2 L456.6,339.3 L456.9,339.2 L457.4,335.0 L457.9,345.0 L458.4,338.1 L458.9,339.9 L459.6,339.0 L460.4,340.5 L461.1,338.2 L461.9,339.1 L462.4,333.8 L462.9,343.8 L463.4,337.8 L463.9,339.7 L464.6,339.5 L465.4,337.3 L466.1,340.3 L466.9,338.8 L467.4,335.5 L467.9,343.8 L468.4,338.3 L468.9,339.7 L469.6,336.4 L470.4,340.7 L471.1,337.7 L471.9,339.4 L472.4,333.8 L472.9,347.5 L473.4,337.8 L473.9,340.2 L474.6,339.7 L475.4,337.9 L476.1,339.3 L476.9,339.9 L477.4,335.0 L477.9,346.2 L478.4,338.1 L478.9,340.0 L479.6,338.4 L480.4,340.3 L481.1,338.4 L481.9,340.4 L482.6,337.2 L483.1,340.2 L483.6,288.8 L484.1,385.0 L484.8,320.0 L485.4,352.9 L485.9,331.1 L486.6,343.8 L486.9,339.7 L487.4,328.8 L487.9,355.0 L488.5,335.2 L489.1,343.9 L489.7,337.5 L490.3,340.8 L491.1,339.7 L491.9,340.2 L492.4,315.0 L492.9,381.2 L493.5,330.0 L494.1,351.8 L494.7,335.3 L495.3,343.4 L496.1,338.6 L496.4,339.6 L496.9,321.2 L497.4,363.8 L498.0,332.4 L498.6,346.6 L499.2,336.3 L499.8,341.7 L500.6,339.0 L501.3,339.2 L502.1,339.8 L502.8,339.4 L503.6,339.4 L504.3,339.1 L505.1,339.2 L505.8,339.0 L506.6,339.6 L507.3,338.4 L508.1,339.5 L508.8,339.1 L509.6,340.1 L510.3,339.2 L511.1,339.5 L511.8,338.7 L512.5,339.1 L513.3,339.3 L514.0,339.5 L514.8,338.7 L515.5,339.7 L516.3,339.2 L517.0,339.7 L517.8,338.5 L518.5,339.2 L519.4,338.8 L519.9,333.8 L520.4,346.2 L520.9,337.8 L521.4,340.0 L522.1,339.1 L522.9,339.5 L523.6,337.7 L523.9,339.1 L524.4,333.8 L524.9,345.0 L525.4,337.8 L525.9,339.9 L526.6,339.6 L527.4,338.4 L528.1,339.3 L528.6,332.5 L529.1,347.5 L529.6,337.5 L530.1,340.2 L530.9,339.2 L531.6,338.4 L532.4,340.4 L533.1,338.6 L533.6,333.8 L534.1,348.8 L534.6,337.8 L535.1,340.3 L535.9,339.0 L536.6,340.8 L536.9,339.1 L537.4,332.5 L537.9,345.0 L538.4,337.5 L538.9,339.9 L539.6,338.8 L540.4,339.1 L541.1,339.0 L541.9,339.5 L542.4,303.8 L542.9,386.2 L543.4,330.3 L543.9,344.8 L544.6,339.4 L545.4,337.5 L546.1,339.9 L546.9,339.2 L547.4,313.8 L547.9,351.2 L548.4,332.8 L548.9,340.6 L549.6,338.6 L550.4,339.7 L550.6,340.1 L551.1,332.5 L551.6,352.5 L552.1,337.5 L552.6,340.8 L553.4,339.0 L554.1,339.6 L554.9,336.2 L555.6,339.3 L556.1,333.8 L556.6,343.8 L557.1,337.8 L557.6,339.7 L558.4,340.4 L559.1,339.1 L559.9,340.3 L560.6,339.4 L561.1,333.8 L561.6,347.5 L562.1,337.8 L562.6,340.2 L563.4,339.1 L564.1,340.8 L564.9,337.9 L565.6,340.0 L566.1,332.5 L566.6,346.2 L567.1,337.5 L567.6,340.0 L568.4,339.5 L569.1,337.7 L569.9,340.3 L570.6,338.6 L571.1,338.9 L571.6,333.8 L572.1,348.8 L572.6,337.8 L573.1,340.3 L573.9,341.8 L574.6,339.2 L575.4,340.0 L576.1,338.9 L576.6,308.8 L577.1,375.0 L577.6,331.6 L578.1,343.5 L578.9,338.2 L579.6,340.2 L580.4,337.5 L580.6,338.9 L581.1,332.5 L581.6,345.0 L582.1,337.5 L582.6,339.9 L583.4,340.2 L584.1,339.1 L584.9,340.6 L585.6,340.1 L586.1,311.2 L586.6,371.2 L587.1,332.2 L587.6,343.0 L588.4,339.4 L589.1,340.0 L589.9,337.3 L590.6,340.7 L591.4,336.9 L591.9,339.7 L592.4,317.5 L592.9,350.0 L593.4,333.8 L593.9,340.5 L594.6,339.8 L595.4,338.8 L595.6,338.8 L596.1,312.5 L596.6,371.2 L597.1,332.5 L597.6,343.0 L598.4,338.9 L599.1,339.2 L599.9,339.8 L600.6,338.8 L601.1,332.5 L601.6,345.0 L602.1,337.5 L602.6,339.9 L603.4,338.9 L604.1,341.4 L604.9,339.0 L605.6,338.9 L606.1,318.8 L606.6,366.2 L607.1,334.1 L607.6,342.4 L608.4,340.3 L609.1,338.9 L609.9,340.4 L610.6,338.9 L611.1,321.2 L611.6,347.5 L612.1,334.7 L612.6,340.2 L613.4,339.7 L614.1,341.5 L614.9,339.0 L615.1,339.4 L615.6,306.2 L616.1,380.0 L616.6,331.0 L617.1,344.1 L617.9,339.6 L618.6,339.3 L619.4,341.5 L619.9,339.2 L620.4,333.8 L620.9,343.8 L621.4,337.8 L621.9,339.7 L622.6,337.6 L623.4,339.9 L623.9,339.5 L624.4,323.8 L624.9,355.0 L625.4,335.3 L625.9,341.1 L626.6,338.3 L627.4,339.8 L628.1,338.6 L628.6,332.5 L629.1,345.0 L629.6,337.5 L630.1,339.9 L630.9,339.3 L631.6,339.9 L632.4,338.1 L633.1,339.5 L633.6,335.0 L634.1,343.8 L634.6,338.1 L635.1,339.7 L635.9,341.5 L636.6,339.0 L637.4,341.3 L638.1,339.6 L638.6,322.5 L639.1,360.0 L639.6,335.0 L640.1,341.7 L640.9,338.3 L641.6,338.9 L642.4,337.5 L643.1,338.5 L643.6,308.8 L644.1,378.8 L644.6,331.6 L645.1,343.9 L645.9,340.1 L646.6,338.7 L647.4,341.1 L648.1,339.8 L648.6,318.8 L649.1,368.8 L649.6,334.1 L650.1,342.7 L650.9,338.2 L651.6,340.7 L652.4,339.1 L653.1,339.4 L653.6,316.2 L654.1,371.2 L654.6,333.5 L655.1,343.0 L655.9,340.0 L656.6,338.4 L657.4,340.0 L658.1,337.6 L658.6,339.3 L659.1,313.8 L659.6,371.2 L660.1,332.8 L660.6,343.0 L661.4,339.3 L662.1,338.8 L662.9,339.8 L663.6,339.2 L664.1,331.2 L664.6,347.5 L665.1,337.2 L665.6,340.2 L666.4,339.0 L667.1,340.9 L667.9,337.9 L668.6,339.2 L669.1,327.5 L669.6,352.5 L670.1,336.3 L670.6,340.8 L671.4,340.5 L672.1,339.0 L672.9,339.0 L673.6,339.1 L674.4,339.3 L674.9,332.5 L675.4,346.2 L675.9,337.5 L676.4,340.0 L677.1,339.5 L677.9,339.2 L678.6,339.7 L679.4,339.1 L679.9,332.5 L680.4,346.2 L680.9,337.5 L681.4,340.0 L682.1,338.9 L682.9,340.0 L683.6,339.4 L684.4,339.4 L684.9,338.9 L685.4,328.8 L685.9,351.2 L686.4,336.6 L686.9,340.6 L687.6,339.4 L688.4,340.1 L689.1,338.8 L689.9,339.3 L690.4,333.8 L690.9,346.2 L691.4,337.8 L691.9,340.0 L692.6,339.6 L693.4,338.1 L694.1,339.8 L694.9,340.3 L695.4,333.8 L695.9,346.2 L696.4,337.8 L696.9,340.0 L697.6,339.1 L698.4,339.8 L699.1,338.0 L699.9,339.0 L700.4,332.5 L700.9,346.2 L701.4,337.5 L701.9,340.0 L702.6,341.4 L703.4,339.2 L704.1,340.5 L704.9,339.1 L705.4,335.0 L705.9,345.0 L706.4,338.1 L706.9,339.9 L707.6,338.7 L708.4,339.7 L709.1,339.2 L709.4,339.1 L709.9,333.8 L710.4,347.5 L710.9,337.8 L711.4,340.2 L712.1,339.8 L712.9,339.2 L713.6,339.1 L714.4,338.4 L714.9,338.8 L715.4,327.5 L715.9,350.0 L716.4,336.3 L716.9,340.5 L717.6,339.9 L718.4,338.6 L719.1,339.6 L719.4,339.3 L719.9,332.5 L720.4,346.2 L720.9,337.5 L721.4,340.0 L722.1,338.8 L722.9,339.8 L723.6,339.1 L724.4,339.2 L724.9,333.8 L725.4,347.5 L725.9,337.8 L726.4,340.2 L727.1,339.5 L727.9,338.8 L728.6,339.6 L729.4,339.7 L729.9,332.5 L730.4,346.2 L730.9,337.5 L731.4,340.0 L732.1,339.0 L732.9,340.1 L733.6,339.1 L734.4,339.5 L735.1,338.8 L735.6,339.2 L736.1,333.8 L736.6,347.5 L737.1,337.8 L737.6,340.2 L738.4,339.5 L739.1,337.6 L739.9,339.6 L740.6,338.7 L741.1,339.4 L741.6,323.8 L742.1,355.0 L742.6,335.3 L743.1,341.1 L743.9,339.5 L744.6,338.4 L745.4,340.0 L745.6,339.0 L746.1,335.0 L746.6,345.0 L747.1,338.1 L747.6,339.9 L748.4,339.1 L749.1,339.2 L749.9,339.2 L750.6,339.2 L751.1,333.8 L751.6,346.2 L752.1,337.8 L752.6,340.0 L753.4,339.7 L754.1,338.8 L754.9,340.2 L755.4,333.8 L755.9,345.0 L756.4,337.8 L756.9,339.9 L757.6,340.1 L758.4,339.3 L759.1,339.9 L759.4,339.1 L759.9,335.0 L760.4,345.0 L760.9,338.1 L761.4,339.9 L762.1,338.6 L762.9,339.6 L763.6,338.6 L764.4,338.4 L764.9,335.0 L765.4,345.0 L765.9,338.1 L766.4,339.9 L767.1,339.3 L767.9,338.8 L768.6,339.7 L769.4,339.2 L769.9,333.8 L770.4,346.2 L770.9,337.8 L771.4,340.0 L772.1,338.8 L772.9,339.9 L773.6,338.0 L774.4,339.0 L774.9,332.5 L775.4,350.0 L775.9,337.5 L776.4,340.5" fill="none" stroke="#1a1ab6" stroke-width="1.3" stroke-linejoin="round" stroke-linecap="round" />
<path transform="translate(50.6,318.7) scale(0.01089,-0.01089)" d="M763 0H583V1147Q518 1085 412.5 1023T223 930V1104Q373 1174.5 485 1275T644 1466H763Z" fill="#111"/>
<line x1="284.5" y1="387.6" x2="363.5" y2="387.6" stroke="#0c0cc8" stroke-width="4" stroke-linecap="round"/>
<path transform="translate(299.1,412.8) scale(0.01069,-0.01069)" d="M763 0H583V1147Q518 1085 412.5 1023T223 930V1104Q373 1174.5 485 1275T644 1466H763Z" fill="#111"/><text x="311.28" y="412.8" font-size="21.9" text-anchor="start" fill="#111" >a</text>
<line x1="685.5" y1="359.8" x2="777" y2="359.8" stroke="#0a820a" stroke-width="4.2" stroke-linecap="round"/>
<path transform="translate(718.4,378.6) scale(0.01069,-0.01069)" d="M763 0H583V1147Q518 1085 412.5 1023T223 930V1104Q373 1174.5 485 1275T644 1466H763Z" fill="#111"/><text x="730.58" y="378.6" font-size="21.9" text-anchor="start" fill="#111" >b</text>
<path d="M575,376 V419.5 H761" fill="none" stroke="#0a0a0a" stroke-width="2"/>
<text x="497.3" y="402.5" font-size="19.25" text-anchor="start" fill="#111" >100 µV</text>
<text x="609.8" y="405.6" font-size="19.6" text-anchor="start" fill="#111" >20 s</text>
<text x="5.3" y="419" font-size="21.8" text-anchor="start" fill="#111" >B</text>
<path d="M46.2,487.5 C46.5,487.5 47.0,488.1 47.5,488.9 C48.0,489.6 48.2,491.2 48.8,491.2 C49.2,491.2 49.5,490.7 50.0,489.7 C50.5,488.8 50.8,487.5 51.2,486.5 C51.8,485.6 52.0,485.8 52.5,485.0 C53.0,484.2 53.2,483.3 53.8,482.3 C54.2,481.3 54.5,480.0 55.0,480.0 C55.5,480.0 55.8,488.8 56.2,488.8 C56.8,488.8 57.0,484.1 57.5,482.5 C58.0,480.9 58.2,481.7 58.8,481.0 C59.2,480.2 59.5,478.8 60.0,478.8 C60.5,478.8 60.8,479.5 61.2,480.0 C61.8,480.5 62.0,481.2 62.5,481.2 C63.0,481.2 63.2,477.5 63.8,477.5 C64.2,477.5 64.5,479.7 65.0,481.2 C65.5,482.7 65.8,483.5 66.2,485.0 C66.8,486.5 66.8,488.8 67.5,488.8 C68.2,488.8 68.8,484.2 69.5,482.5 C70.2,480.8 70.7,480.0 71.2,480.0 C71.8,480.0 72.0,516.2 72.5,516.2 C73.0,516.2 73.2,460.0 73.8,460.0 C74.2,460.0 74.5,468.2 75.0,472.5 C75.5,476.8 75.8,473.8 76.2,481.2 C76.7,488.8 76.6,510.0 77.0,510.0 C77.4,510.0 77.7,476.2 78.2,476.2 C78.8,476.2 79.4,482.5 80.0,482.5 C80.6,482.5 80.7,476.2 81.2,476.2 C81.8,476.2 82.2,482.2 83.0,485.0 C83.8,487.8 84.3,490.0 85.0,490.0 C85.7,490.0 85.8,490.2 86.2,489.8 C86.8,489.4 87.0,488.6 87.5,488.2 C88.0,487.7 88.2,488.5 88.8,487.5 C89.2,486.5 89.5,484.8 90.0,483.3 C90.5,481.8 90.8,480.0 91.2,480.0 C91.8,480.0 92.0,486.2 92.5,486.2 C93.0,486.2 93.2,480.7 93.8,478.8 C94.2,476.8 94.5,477.1 95.0,476.4 C95.5,475.6 95.8,475.8 96.2,475.0 C96.8,474.2 96.8,472.5 97.5,472.5 C98.2,472.5 98.8,475.5 99.5,477.5 C100.2,479.5 100.5,481.0 101.2,482.5 C102.0,484.0 102.3,482.2 103.0,485.0 C103.7,487.8 104.0,492.8 104.5,496.2 C105.0,499.8 105.2,502.5 105.8,502.5 C106.3,502.5 106.8,472.5 107.5,472.5 C108.2,472.5 108.8,475.5 109.5,477.5 C110.2,479.5 110.8,479.2 111.2,482.5 C111.8,485.8 111.5,493.8 112.0,493.8 C112.5,493.8 113.2,483.8 113.8,483.8 C114.3,483.8 114.5,484.7 115.0,485.4 C115.5,486.2 115.8,487.5 116.2,487.5 C116.8,487.5 117.0,486.6 117.5,485.9 C118.0,485.1 118.2,483.8 118.8,483.8 C119.2,483.8 119.5,484.4 120.0,484.7 C120.5,484.9 120.8,485.0 121.2,485.0 C121.8,485.0 122.0,478.8 122.5,478.8 C123.0,478.8 123.2,480.6 123.8,481.6 C124.2,482.6 124.5,483.8 125.0,483.8 C125.5,483.8 125.8,483.6 126.2,483.1 C126.8,482.6 127.0,481.2 127.5,481.2 C128.0,481.2 128.2,482.2 128.8,482.5 C129.2,482.7 129.5,482.3 130.0,482.5 C130.5,482.7 130.8,483.1 131.2,483.4 C131.8,483.6 132.0,483.2 132.5,483.8 C133.0,484.3 133.2,485.4 133.8,486.1 C134.2,486.9 134.5,487.5 135.0,487.5 C135.5,487.5 135.8,487.0 136.2,486.5 C136.8,486.0 137.0,485.8 137.5,485.0 C138.0,484.2 138.2,483.3 138.8,482.3 C139.2,481.3 139.6,480.0 140.0,480.0 C140.4,480.0 140.3,496.2 140.8,496.2 C141.2,496.2 141.6,472.5 142.0,472.5 C142.4,472.5 142.4,503.8 142.8,503.8 C143.1,503.8 143.3,471.2 143.8,471.2 C144.2,471.2 144.5,477.8 145.0,480.0 C145.5,482.2 145.7,482.5 146.2,482.5 C146.8,482.5 147.2,478.8 148.0,478.8 C148.8,478.8 149.3,485.0 150.0,485.0 C150.7,485.0 150.8,484.6 151.2,484.1 C151.8,483.6 152.0,482.5 152.5,482.5 C153.0,482.5 153.2,483.7 153.8,484.4 C154.2,485.2 154.5,485.8 155.0,486.2 C155.5,486.7 155.8,486.6 156.2,486.8 C156.8,487.1 157.0,487.5 157.5,487.5 C158.0,487.5 158.2,486.7 158.8,485.7 C159.2,484.7 159.6,482.5 160.0,482.5 C160.4,482.5 160.2,498.8 160.8,498.8 C161.2,498.8 161.9,477.5 162.5,477.5 C163.1,477.5 163.3,501.2 163.8,501.2 C164.2,501.2 164.1,463.8 164.5,463.8 C164.9,463.8 165.2,471.2 165.8,475.0 C166.2,478.8 166.4,482.5 167.0,482.5 C167.6,482.5 168.2,477.2 168.8,475.0 C169.3,472.8 169.5,471.2 170.0,471.2 C170.5,471.2 170.8,474.4 171.2,476.2 C171.8,478.1 172.0,478.8 172.5,480.3 C173.0,481.8 173.2,482.5 173.8,483.8 C174.2,485.0 174.5,485.5 175.0,486.7 C175.5,488.0 175.8,488.3 176.2,490.0 C176.8,491.7 177.1,489.0 177.5,495.0 C177.9,501.0 178.1,520.0 178.5,520.0 C178.9,520.0 179.2,499.4 179.6,485.6 C180.1,471.9 180.3,451.2 180.8,451.2 C181.2,451.2 181.6,468.5 182.0,482.5 C182.4,496.5 182.5,521.2 183.0,521.2 C183.5,521.2 183.8,462.5 184.5,462.5 C185.2,462.5 185.6,463.5 186.2,467.5 C186.9,471.5 187.2,478.0 188.0,482.5 C188.8,487.0 189.2,487.5 190.0,490.0 C190.8,492.5 191.2,495.0 192.0,495.0 C192.8,495.0 193.2,487.5 193.8,487.5 C194.3,487.5 194.3,492.5 195.0,492.5 C195.7,492.5 196.3,477.5 197.0,477.5 C197.7,477.5 197.8,496.2 198.2,496.2 C198.8,496.2 199.1,471.2 199.5,471.2 C199.9,471.2 200.0,513.8 200.5,513.8 C201.0,513.8 201.3,485.0 202.0,472.5 C202.7,460.0 203.2,451.2 203.8,451.2 C204.3,451.2 204.3,453.5 205.0,458.8 C205.7,464.0 206.2,471.8 207.0,477.5 C207.8,483.2 208.2,484.2 208.8,487.5 C209.3,490.8 209.5,493.8 210.0,493.8 C210.5,493.8 210.8,493.1 211.2,492.1 C211.8,491.1 212.0,488.8 212.5,488.8 C213.0,488.8 213.2,489.4 213.8,489.9 C214.2,490.4 214.4,484.7 215.0,491.2 C215.6,497.8 215.9,522.5 216.5,522.5 C217.1,522.5 217.5,485.8 218.0,472.5 C218.5,459.2 218.5,456.2 219.0,456.2 C219.5,456.2 219.8,462.2 220.5,467.5 C221.2,472.8 221.8,478.9 222.5,482.5 C223.2,486.1 223.2,484.3 223.8,485.3 C224.2,486.3 224.5,487.5 225.0,487.5 C225.5,487.5 225.8,487.2 226.2,486.9 C226.8,486.6 227.0,486.4 227.5,486.0 C228.0,485.7 228.2,485.5 228.8,485.0 C229.2,484.5 229.5,484.0 230.0,483.8 C230.5,483.5 230.8,483.8 231.2,483.7 C231.8,483.5 232.0,483.2 232.5,483.0 C233.0,482.8 233.2,482.8 233.8,482.7 C234.2,482.6 234.5,482.7 235.0,482.5 C235.5,482.3 235.8,482.1 236.2,481.8 C236.8,481.6 237.0,481.2 237.5,481.2 C238.0,481.2 238.2,492.5 238.8,492.5 C239.2,492.5 239.6,478.8 240.0,478.8 C240.4,478.8 240.2,545.0 240.8,545.0 C241.2,545.0 241.8,487.0 242.5,467.5 C243.2,448.0 243.8,447.5 244.5,447.5 C245.2,447.5 245.6,452.5 246.2,460.0 C246.9,467.5 247.2,475.5 248.0,485.0 C248.8,494.5 249.2,501.2 250.0,507.5 C250.8,513.8 251.2,516.2 252.0,516.2 C252.8,516.2 253.2,495.5 253.8,490.0 C254.3,484.5 254.5,489.1 255.0,488.6 C255.5,488.1 255.7,488.7 256.2,487.5 C256.9,486.3 257.4,487.2 258.0,482.5 C258.6,477.8 258.9,463.8 259.5,463.8 C260.1,463.8 260.6,526.2 261.2,526.2 C261.9,526.2 261.9,483.0 262.5,470.0 C263.1,457.0 263.8,461.2 264.5,461.2 C265.2,461.2 265.6,462.4 266.2,465.0 C266.9,467.6 267.0,470.6 267.5,474.1 C268.0,477.6 268.2,479.9 268.8,482.5 C269.2,485.1 269.5,485.3 270.0,486.8 C270.5,488.3 270.6,486.6 271.2,490.0 C271.9,493.4 272.2,503.8 273.0,503.8 C273.8,503.8 274.4,492.3 275.0,487.5 C275.6,482.7 275.8,482.7 276.2,479.7 C276.8,476.7 276.9,472.5 277.5,472.5 C278.1,472.5 278.6,523.8 279.2,523.8 C279.9,523.8 280.1,471.2 280.8,471.2 C281.4,471.2 281.9,500.0 282.5,500.0 C283.1,500.0 283.5,470.0 284.0,470.0 C284.5,470.0 284.7,474.0 285.1,476.5 C285.6,479.0 285.8,480.9 286.2,482.5 C286.7,484.1 287.0,483.7 287.5,484.7 C288.0,485.7 288.2,487.5 288.8,487.5 C289.2,487.5 289.5,486.1 290.0,485.4 C290.5,484.6 290.8,483.8 291.2,483.8 C291.8,483.8 291.9,492.5 292.5,492.5 C293.1,492.5 293.9,481.8 294.5,477.5 C295.1,473.2 295.2,471.2 295.8,471.2 C296.2,471.2 296.4,482.1 297.0,485.0 C297.6,487.9 297.9,485.3 298.5,485.6 C299.1,485.8 299.4,486.2 300.0,486.2 C300.6,486.2 300.8,486.1 301.2,485.9 C301.8,485.7 302.0,485.6 302.5,485.2 C303.0,484.9 303.2,484.0 303.8,484.0 C304.2,484.0 304.5,484.4 305.0,484.5 C305.5,484.6 305.8,484.6 306.2,484.6 C306.8,484.6 307.0,484.0 307.5,483.7 C308.0,483.4 308.2,483.3 308.8,483.2 C309.2,483.0 309.4,483.0 310.0,483.0 C310.6,483.0 311.0,483.0 311.6,483.0 C312.3,483.0 312.7,483.6 313.2,482.5 C313.8,481.4 314.1,477.5 314.5,477.5 C314.9,477.5 314.9,517.5 315.5,517.5 C316.1,517.5 316.7,450.0 317.5,450.0 C318.3,450.0 318.8,467.5 319.5,475.0 C320.2,482.5 320.6,484.0 321.2,487.5 C321.9,491.0 321.9,492.5 322.5,492.5 C323.1,492.5 323.8,489.7 324.5,488.8 C325.2,487.8 325.4,488.2 326.0,487.9 C326.6,487.7 326.9,487.8 327.5,487.5 C328.1,487.2 328.2,486.6 328.8,486.6 C329.2,486.6 329.5,486.9 330.0,486.9 C330.5,486.9 330.8,486.7 331.2,486.2 C331.8,485.8 332.0,485.3 332.5,484.5 C333.0,483.8 333.2,483.9 333.8,482.5 C334.2,481.1 334.5,477.5 335.0,477.5 C335.5,477.5 335.8,515.0 336.2,515.0 C336.8,515.0 337.0,447.5 337.5,447.5 C338.0,447.5 338.4,522.5 338.8,522.5 C339.1,522.5 339.0,433.8 339.5,433.8 C340.0,433.8 340.6,449.8 341.2,460.0 C341.9,470.2 342.2,477.5 343.0,485.0 C343.8,492.5 344.4,497.5 345.0,497.5 C345.6,497.5 345.8,495.7 346.2,494.7 C346.8,493.7 347.0,493.4 347.5,492.5 C348.0,491.6 348.2,491.3 348.8,490.3 C349.2,489.3 349.4,489.1 350.0,487.5 C350.6,485.9 351.4,482.5 352.0,482.5 C352.6,482.5 352.6,508.8 353.0,508.8 C353.4,508.8 353.7,466.2 354.2,466.2 C354.8,466.2 355.2,541.2 355.8,541.2 C356.3,541.2 356.4,438.8 357.0,438.8 C357.6,438.8 358.1,453.7 358.8,460.0 C359.4,466.3 359.5,466.2 360.0,470.2 C360.5,474.2 360.8,476.9 361.2,480.0 C361.8,483.1 362.0,483.4 362.5,485.9 C363.0,488.4 363.2,490.7 363.8,492.5 C364.2,494.3 364.5,494.3 365.0,495.0 C365.5,495.8 365.6,496.2 366.2,496.2 C366.9,496.2 367.4,485.0 368.0,485.0 C368.6,485.0 368.5,532.5 369.0,532.5 C369.5,532.5 370.0,475.5 370.5,460.0 C371.0,444.5 371.0,455.0 371.5,455.0 C372.0,455.0 372.3,464.8 373.0,470.0 C373.7,475.2 374.4,478.7 375.0,481.2 C375.6,483.8 375.8,482.2 376.2,482.6 C376.8,483.0 377.0,482.9 377.5,483.4 C378.0,483.8 378.2,485.0 378.8,485.0 C379.2,485.0 379.5,484.9 380.0,484.8 C380.5,484.6 380.8,484.4 381.2,484.2 C381.8,484.0 382.0,483.8 382.5,483.8 C383.0,483.8 383.2,483.8 383.8,483.8 C384.2,483.8 384.5,482.7 385.0,482.7 C385.5,482.7 385.8,483.2 386.2,483.2 C386.8,483.2 387.0,482.5 387.5,482.5 C388.0,482.5 388.2,482.9 388.8,482.9 C389.2,482.9 389.5,482.8 390.0,482.8 C390.5,482.7 390.6,483.3 391.2,482.5 C391.9,481.7 392.4,478.8 393.0,478.8 C393.6,478.8 393.5,486.0 394.0,500.0 C394.5,514.0 394.9,548.8 395.5,548.8 C396.1,548.8 396.5,471.8 397.0,447.5 C397.5,423.2 397.4,427.5 398.0,427.5 C398.6,427.5 399.2,446.5 400.0,460.0 C400.8,473.5 401.4,495.0 402.0,495.0 C402.6,495.0 402.8,490.0 403.2,490.0 C403.7,490.0 403.8,527.5 404.2,527.5 C404.7,527.5 404.9,492.5 405.5,492.5 C406.1,492.5 406.7,502.5 407.5,502.5 C408.3,502.5 408.8,487.5 409.5,487.5 C410.2,487.5 410.3,508.8 411.0,508.8 C411.7,508.8 412.2,448.8 413.0,448.8 C413.8,448.8 414.2,457.2 415.0,460.0 C415.8,462.8 416.2,460.0 417.0,462.5 C417.8,465.0 418.1,469.5 418.8,472.5 C419.4,475.5 419.5,476.0 420.0,477.5 C420.5,479.0 420.8,479.2 421.2,480.2 C421.8,481.2 422.0,481.7 422.5,482.5 C423.0,483.3 423.2,483.7 423.8,484.2 C424.2,484.7 424.4,485.0 425.0,485.0 C425.6,485.0 426.4,482.5 427.0,482.5 C427.6,482.5 427.6,531.2 428.2,531.2 C428.9,531.2 429.4,483.8 430.0,470.0 C430.6,456.2 430.5,462.5 431.0,462.5 C431.5,462.5 431.8,474.0 432.5,480.0 C433.2,486.0 433.8,489.5 434.5,492.5 C435.2,495.5 435.6,495.0 436.2,495.0 C436.9,495.0 437.0,494.3 437.5,493.6 C438.0,493.0 438.2,492.5 438.8,491.7 C439.2,491.0 439.5,490.7 440.0,490.0 C440.5,489.3 440.8,488.9 441.2,488.5 C441.8,488.1 442.0,488.4 442.5,487.9 C443.0,487.5 443.2,486.8 443.8,486.2 C444.3,485.7 444.7,485.9 445.4,485.4 C446.0,484.9 446.4,485.1 447.0,483.8 C447.6,482.4 447.8,478.8 448.2,478.8 C448.8,478.8 449.1,503.8 449.5,503.8 C449.9,503.8 450.1,458.8 450.5,458.8 C450.9,458.8 451.2,547.5 451.8,547.5 C452.2,547.5 452.4,463.9 453.0,440.0 C453.6,416.1 453.9,428.0 454.5,428.0 C455.1,428.0 455.6,433.6 456.2,442.5 C456.9,451.4 456.9,459.5 457.5,472.5 C458.1,485.5 458.8,499.0 459.5,507.5 C460.2,516.0 460.6,515.0 461.2,515.0 C461.9,515.0 462.0,509.9 462.5,506.4 C463.0,502.9 463.2,500.8 463.8,497.5 C464.2,494.2 464.5,493.1 465.0,490.1 C465.5,487.1 465.6,486.5 466.2,482.5 C466.9,478.5 467.5,470.0 468.0,470.0 C468.5,470.0 468.4,526.2 468.8,526.2 C469.1,526.2 469.5,471.5 470.0,455.0 C470.5,438.5 470.8,443.8 471.2,443.8 C471.8,443.8 472.0,521.2 472.5,521.2 C473.0,521.2 473.1,447.5 473.8,447.5 C474.4,447.5 474.8,453.0 475.5,460.0 C476.2,467.0 476.7,474.2 477.5,482.5 C478.3,490.8 478.8,497.0 479.5,501.2 C480.2,505.5 480.6,503.8 481.2,503.8 C481.9,503.8 482.0,502.9 482.5,502.2 C483.0,501.4 483.1,500.0 483.8,500.0 C484.4,500.0 484.9,502.5 485.5,502.5 C486.1,502.5 486.5,495.0 487.0,490.0 C487.5,485.0 487.5,477.5 488.0,477.5 C488.5,477.5 488.9,485.0 489.5,485.0 C490.1,485.0 490.4,456.2 491.0,456.2 C491.6,456.2 492.0,482.5 492.5,482.5 C493.0,482.5 493.1,468.8 493.5,468.8 C493.9,468.8 493.9,515.0 494.2,515.0 C494.6,515.0 494.9,466.2 495.5,466.2 C496.1,466.2 496.4,474.2 497.0,477.5 C497.6,480.8 498.1,481.4 498.8,482.5 C499.4,483.6 499.5,482.4 500.0,482.9 C500.5,483.4 500.8,484.4 501.2,485.0 C501.8,485.6 502.0,485.5 502.5,485.8 C503.0,486.0 503.2,486.1 503.8,486.2 C504.2,486.4 504.5,486.1 505.0,486.6 C505.5,487.1 505.6,488.8 506.2,488.8 C506.9,488.8 507.4,485.0 508.0,485.0 C508.6,485.0 508.9,491.2 509.5,491.2 C510.1,491.2 510.6,486.2 511.2,482.5 C511.9,478.8 512.4,477.8 513.0,472.5 C513.6,467.2 513.9,456.2 514.5,456.2 C515.1,456.2 515.5,467.2 516.2,472.5 C517.0,477.8 517.2,479.0 518.0,482.5 C518.8,486.0 519.2,490.0 520.0,490.0 C520.8,490.0 521.2,485.0 522.0,485.0 C522.8,485.0 523.1,492.5 523.8,492.5 C524.4,492.5 524.5,487.5 525.0,487.5 C525.5,487.5 525.8,512.5 526.2,512.5 C526.8,512.5 527.1,481.8 527.5,472.5 C527.9,463.2 527.8,466.2 528.2,466.2 C528.8,466.2 529.4,474.6 530.0,477.5 C530.6,480.4 530.8,479.5 531.2,480.7 C531.8,482.0 532.0,482.9 532.5,483.8 C533.0,484.6 533.2,484.5 533.8,484.8 C534.2,485.0 534.5,485.0 535.0,485.0 C535.5,485.0 535.8,484.9 536.2,484.4 C536.8,483.9 537.0,483.0 537.5,482.5 C538.0,482.0 538.2,482.0 538.8,481.7 C539.2,481.5 539.4,482.6 540.0,481.2 C540.6,479.9 541.2,475.0 541.8,475.0 C542.2,475.0 542.1,500.0 542.5,500.0 C542.9,500.0 543.3,470.0 543.8,470.0 C544.2,470.0 544.4,493.8 544.8,493.8 C545.1,493.8 545.0,463.8 545.5,463.8 C546.0,463.8 546.4,473.2 547.0,477.5 C547.6,481.8 548.1,483.1 548.8,485.0 C549.4,486.9 549.5,486.3 550.0,487.0 C550.5,487.8 550.8,488.8 551.2,488.8 C551.8,488.8 552.0,488.6 552.5,488.3 C553.0,488.0 553.2,487.1 553.8,487.1 C554.2,487.1 554.5,487.5 555.0,487.5 C555.5,487.5 555.8,487.3 556.2,486.9 C556.8,486.6 557.0,486.2 557.5,485.8 C558.0,485.5 558.2,485.2 558.8,485.0 C559.2,484.8 559.5,484.9 560.0,484.6 C560.5,484.4 560.8,484.0 561.2,483.8 C561.8,483.7 562.0,484.5 562.5,483.8 C563.0,483.0 563.3,480.0 563.8,480.0 C564.2,480.0 564.2,522.5 564.8,522.5 C565.2,522.5 565.7,447.5 566.2,447.5 C566.8,447.5 567.0,521.2 567.5,521.2 C568.0,521.2 568.4,473.8 569.0,460.0 C569.6,446.2 569.8,452.5 570.5,452.5 C571.2,452.5 571.7,464.5 572.5,472.5 C573.3,480.5 573.8,486.0 574.5,492.5 C575.2,499.0 575.5,505.0 576.2,505.0 C577.0,505.0 577.4,504.5 578.0,502.5 C578.6,500.5 578.9,495.0 579.5,495.0 C580.1,495.0 580.6,521.2 581.2,521.2 C581.9,521.2 582.0,487.8 582.5,475.0 C583.0,462.2 583.1,457.5 583.8,457.5 C584.4,457.5 584.8,464.0 585.5,467.5 C586.2,471.0 586.9,473.1 587.5,475.0 C588.1,476.9 588.2,476.1 588.8,476.9 C589.2,477.6 589.5,478.2 590.0,478.8 C590.5,479.3 590.8,479.2 591.2,479.6 C591.8,480.1 592.0,480.6 592.5,480.9 C593.0,481.2 593.2,481.0 593.8,481.2 C594.2,481.5 594.5,481.6 595.0,482.2 C595.5,482.8 595.8,484.2 596.2,484.2 C596.8,484.2 597.0,483.8 597.5,483.8 C598.0,483.8 598.2,483.2 598.8,490.0 C599.2,496.8 599.6,517.5 600.0,517.5 C600.4,517.5 600.2,467.5 600.8,467.5 C601.2,467.5 601.9,474.3 602.5,477.5 C603.1,480.7 603.2,481.1 603.8,483.6 C604.2,486.1 604.5,488.6 605.0,490.0 C605.5,491.4 605.8,490.3 606.2,490.5 C606.8,490.8 607.0,491.2 607.5,491.2 C608.0,491.2 608.2,490.6 608.8,490.0 C609.2,489.4 609.5,489.0 610.0,488.5 C610.5,488.0 610.8,488.0 611.2,487.5 C611.8,487.0 612.0,486.9 612.5,486.2 C613.0,485.4 613.2,485.2 613.8,483.8 C614.2,482.3 614.5,478.8 615.0,478.8 C615.5,478.8 615.5,504.5 616.0,504.5 C616.5,504.5 617.0,481.6 617.5,473.8 C618.0,465.9 618.2,465.0 618.8,465.0 C619.2,465.0 619.4,473.5 620.0,477.5 C620.6,481.5 621.3,483.3 622.0,485.0 C622.7,486.7 622.9,485.8 623.5,486.2 C624.1,486.6 624.5,487.0 625.0,487.0 C625.5,487.0 625.8,485.9 626.2,485.5 C626.8,485.1 627.0,485.2 627.5,484.9 C628.0,484.5 628.2,484.1 628.8,483.8 C629.2,483.4 629.5,483.4 630.0,482.9 C630.5,482.4 630.8,481.2 631.2,481.2 C631.8,481.2 632.0,481.5 632.5,482.0 C633.0,482.5 633.2,483.8 633.8,483.8 C634.2,483.8 634.5,483.4 635.0,483.2 C635.5,482.9 635.8,483.6 636.2,482.5 C636.8,481.4 637.0,477.5 637.5,477.5 C638.0,477.5 638.1,478.5 638.5,492.5 C638.9,506.5 639.0,547.5 639.5,547.5 C640.0,547.5 640.6,460.5 641.2,435.0 C641.9,409.5 642.0,420.0 642.5,420.0 C643.0,420.0 643.4,422.0 644.0,435.0 C644.6,448.0 645.2,471.8 645.8,485.0 C646.3,498.2 646.4,494.7 646.9,501.2 C647.3,507.7 647.4,514.0 648.0,517.5 C648.6,521.0 649.4,518.8 650.0,518.8 C650.6,518.8 650.8,513.2 651.2,509.0 C651.8,504.7 652.0,501.5 652.5,497.5 C653.0,493.5 653.2,492.4 653.8,488.9 C654.2,485.4 654.5,482.9 655.0,480.0 C655.5,477.1 655.8,476.5 656.2,474.2 C656.8,472.0 657.0,468.8 657.5,468.8 C658.0,468.8 658.2,477.5 658.8,477.5 C659.2,477.5 659.5,471.2 660.0,471.2 C660.5,471.2 660.8,528.8 661.2,528.8 C661.8,528.8 662.0,478.8 662.5,460.0 C663.0,441.2 663.1,435.0 663.8,435.0 C664.4,435.0 664.8,443.0 665.5,452.5 C666.2,462.0 666.9,473.8 667.5,482.5 C668.1,491.2 668.1,496.2 668.8,496.2 C669.4,496.2 669.8,495.0 670.5,495.0 C671.2,495.0 671.8,510.0 672.5,510.0 C673.2,510.0 673.6,505.0 674.2,505.0 C674.9,505.0 675.2,520.0 675.8,520.0 C676.3,520.0 676.6,496.0 677.0,485.0 C677.4,474.0 677.2,465.0 677.8,465.0 C678.2,465.0 678.8,474.2 679.5,477.5 C680.2,480.8 680.6,480.4 681.2,481.2 C681.9,482.1 682.0,481.4 682.5,481.7 C683.0,481.9 683.2,482.5 683.8,482.5 C684.2,482.5 684.5,482.1 685.0,481.3 C685.5,480.6 685.8,478.8 686.2,478.8 C686.8,478.8 687.0,479.0 687.5,479.2 C688.0,479.5 688.2,479.4 688.8,480.0 C689.2,480.6 689.5,481.6 690.0,482.1 C690.5,482.6 690.6,482.5 691.2,482.5 C691.9,482.5 692.5,477.5 693.0,477.5 C693.5,477.5 693.4,516.2 693.8,516.2 C694.1,516.2 694.2,460.0 694.8,460.0 C695.2,460.0 695.7,473.1 696.2,477.5 C696.8,481.9 697.0,480.0 697.5,482.0 C698.0,484.0 698.2,486.0 698.8,487.5 C699.2,489.0 699.5,488.6 700.0,489.3 C700.5,490.1 700.8,491.2 701.2,491.2 C701.8,491.2 702.0,491.0 702.5,490.8 C703.0,490.6 703.2,490.3 703.8,490.2 C704.2,490.0 704.5,490.4 705.0,490.0 C705.5,489.6 705.8,488.8 706.2,488.1 C706.8,487.3 706.9,487.4 707.5,486.2 C708.1,485.1 709.0,482.5 709.5,482.5 C710.0,482.5 709.9,482.0 710.2,488.8 C710.6,495.5 710.8,516.2 711.2,516.2 C711.7,516.2 712.0,478.5 712.5,467.5 C713.0,456.5 713.1,465.5 713.5,461.2 C713.9,457.0 714.1,446.2 714.5,446.2 C714.9,446.2 715.0,467.2 715.5,475.0 C716.0,482.8 716.5,482.4 717.0,485.0 C717.5,487.6 717.8,486.8 718.2,487.8 C718.8,488.8 719.0,490.0 719.5,490.0 C720.0,490.0 720.4,489.0 721.0,488.5 C721.6,488.0 722.0,488.1 722.5,487.5 C723.0,486.9 723.2,486.2 723.8,485.8 C724.2,485.4 724.5,485.9 725.0,485.5 C725.5,485.1 725.8,484.6 726.2,483.8 C726.8,482.9 727.0,482.4 727.5,481.2 C728.0,479.9 728.2,478.7 728.8,477.5 C729.2,476.3 729.5,475.0 730.0,475.0 C730.5,475.0 731.0,513.8 731.5,513.8 C732.0,513.8 732.3,478.2 732.8,467.5 C733.2,456.8 733.3,460.0 733.8,460.0 C734.2,460.0 734.5,473.2 735.0,477.5 C735.5,481.8 735.8,479.9 736.2,481.6 C736.8,483.4 737.0,485.2 737.5,486.2 C738.0,487.3 738.2,486.8 738.8,486.8 C739.2,486.8 739.5,486.2 740.0,486.2 C740.5,486.2 740.8,487.5 741.2,487.5 C741.8,487.5 742.0,487.7 742.5,487.5 C743.0,487.2 743.2,486.2 743.8,486.2 C744.2,486.2 744.5,486.2 745.0,486.2 C745.5,486.2 745.9,485.7 746.5,485.4 C747.1,485.2 747.5,485.8 748.0,485.0 C748.5,484.2 748.9,481.2 749.2,481.2 C749.6,481.2 749.6,490.0 750.0,490.0 C750.4,490.0 750.8,483.8 751.2,483.8 C751.8,483.8 752.0,484.8 752.5,484.8 C753.0,484.8 753.2,483.8 753.8,483.8 C754.2,483.8 754.5,484.5 755.0,484.5 C755.5,484.5 755.8,484.4 756.2,484.3 C756.8,484.1 757.0,483.6 757.5,483.6 C758.0,483.6 758.2,483.8 758.8,483.8 C759.2,483.8 759.5,483.5 760.0,483.5 C760.5,483.5 760.8,483.9 761.2,484.2 C761.8,484.5 762.0,485.0 762.5,485.0 C763.0,485.0 763.2,484.7 763.8,484.5 C764.2,484.2 764.5,484.4 765.0,483.8 C765.5,483.1 765.8,481.2 766.2,481.2 C766.8,481.2 767.0,489.5 767.5,489.5 C768.0,489.5 768.4,482.5 769.0,482.5 C769.6,482.5 769.9,488.8 770.5,488.8 C771.1,488.8 771.4,482.5 772.0,482.5 C772.6,482.5 773.0,485.0 773.8,485.0 C774.5,485.0 775.0,478.0 775.8,478.0 C776.5,478.0 776.9,481.4 777.5,482.5 C778.1,483.6 778.2,483.0 778.8,483.7 C779.2,484.3 779.5,485.8 780.0,485.8 C780.5,485.8 780.8,485.3 781.2,485.3 C781.8,485.3 782.0,485.5 782.5,485.5 C783.0,485.5 783.2,485.1 783.8,485.0 C784.2,484.9 784.5,484.9 785.0,484.8 C785.5,484.6 785.8,484.2 786.2,484.2 C786.8,484.2 787.0,484.4 787.5,484.5 C788.0,484.6 788.2,484.9 788.8,484.9 C789.2,484.9 789.5,484.4 790.0,484.2 C790.5,484.0 790.8,484.0 791.2,484.0 C791.8,484.0 792.0,484.0 792.5,484.0 C793.0,484.0 793.5,483.0 793.8,483.0" fill="none" stroke="#1c1cc0" stroke-width="1.5" stroke-linejoin="round" stroke-linecap="round"/>
<path transform="translate(45.4,465.2) scale(0.01069,-0.01069)" d="M763 0H583V1147Q518 1085 412.5 1023T223 930V1104Q373 1174.5 485 1275T644 1466H763Z" fill="#111"/><text x="57.58" y="465.2" font-size="21.9" text-anchor="start" fill="#111" >a</text>
<path d="M575,524.5 V568.4 H722.5" fill="none" stroke="#0a0a0a" stroke-width="2"/>
<text x="497.3" y="543" font-size="19.25" text-anchor="start" fill="#111" >100 µV</text>
<text x="610.5" y="557" font-size="19.5" text-anchor="start" fill="#111" >2 s</text>
<path d="M45.5,601.2 C45.7,601.2 46.2,601.1 46.5,601.5 C46.8,601.9 47.2,603.8 47.5,603.8 C47.8,603.8 48.2,603.6 48.5,603.4 C48.8,603.2 49.2,602.8 49.5,602.5 C49.8,602.2 50.1,602.0 50.4,601.4 C50.7,600.8 50.9,598.8 51.2,598.8 C51.6,598.8 52.1,598.8 52.5,599.0 C52.9,599.2 53.4,600.0 53.8,600.0 C54.1,600.0 54.3,597.7 54.6,597.1 C54.9,596.4 55.2,596.5 55.5,596.2 C55.8,596.0 56.2,595.8 56.5,595.6 C56.8,595.4 57.2,595.1 57.5,595.0 C57.8,594.9 58.2,595.0 58.5,594.8 C58.8,594.5 59.2,593.8 59.5,593.8 C59.8,593.8 60.1,595.3 60.4,595.3 C60.7,595.3 61.0,595.4 61.2,595.0 C61.5,594.6 61.8,593.2 62.1,592.8 C62.4,592.4 62.6,596.7 63.0,592.5 C63.4,588.3 63.8,567.5 64.2,567.5 C64.7,567.5 65.0,627.5 65.5,627.5 C66.0,627.5 66.5,595.0 67.0,595.0 C67.5,595.0 67.8,592.9 68.2,602.5 C68.7,612.1 69.0,652.5 69.5,652.5 C70.0,652.5 70.6,552.5 71.0,552.5 C71.4,552.5 71.7,577.5 72.0,577.5 C72.3,577.5 72.7,568.8 73.0,568.8 C73.3,568.8 73.6,580.8 74.0,585.0 C74.4,589.2 75.1,591.8 75.5,593.8 C75.9,595.7 76.2,595.2 76.5,596.5 C76.8,597.7 77.2,601.2 77.5,601.2 C77.8,601.2 78.2,601.0 78.5,600.6 C78.8,600.1 79.2,598.8 79.5,598.8 C79.8,598.8 80.1,600.4 80.4,601.0 C80.7,601.6 80.9,601.8 81.2,602.5 C81.6,603.2 82.1,604.7 82.5,605.2 C82.9,605.7 83.3,605.4 83.8,605.5 C84.2,605.6 84.6,605.8 85.0,605.8 C85.4,605.8 85.8,604.9 86.2,604.5 C86.7,604.1 87.1,603.8 87.5,603.4 C87.9,603.1 88.3,602.8 88.8,602.5 C89.2,602.2 89.6,601.9 90.0,601.7 C90.4,601.4 90.8,601.2 91.2,601.2 C91.7,601.2 92.1,602.7 92.5,602.7 C92.9,602.7 93.3,600.7 93.8,600.0 C94.2,599.3 94.6,598.9 95.0,598.5 C95.4,598.1 95.8,597.7 96.2,597.5 C96.7,597.3 97.1,597.5 97.5,597.5 C97.9,597.5 98.3,598.8 98.8,598.8 C99.2,598.8 99.6,597.0 100.0,596.6 C100.4,596.2 100.8,596.4 101.2,596.2 C101.7,596.1 102.1,595.7 102.5,595.5 C102.9,595.2 103.3,594.7 103.8,594.5 C104.2,594.3 104.6,594.4 105.0,594.2 C105.4,594.1 105.9,594.1 106.2,593.8 C106.6,593.4 106.8,592.6 107.1,592.2 C107.4,591.8 107.6,594.5 108.0,591.2 C108.4,588.0 108.8,572.5 109.2,572.5 C109.7,572.5 110.1,632.5 110.5,632.5 C110.9,632.5 111.3,598.8 111.8,598.8 C112.2,598.8 112.6,607.5 113.0,607.5 C113.4,607.5 113.7,597.5 114.0,597.5 C114.3,597.5 114.6,613.8 115.0,613.8 C115.4,613.8 115.8,597.1 116.2,592.5 C116.7,587.9 117.0,587.5 117.5,586.2 C118.0,585.0 118.5,585.0 119.0,585.0 C119.5,585.0 120.1,588.9 120.5,590.0 C120.9,591.1 121.2,591.2 121.5,591.8 C121.8,592.5 122.1,593.2 122.5,593.8 C122.9,594.3 123.3,594.8 123.8,595.2 C124.2,595.6 124.6,595.8 125.0,596.2 C125.4,596.7 125.8,597.6 126.2,598.1 C126.7,598.5 127.1,598.4 127.5,598.8 C127.9,599.1 128.3,600.0 128.8,600.0 C129.2,600.0 129.6,599.7 130.0,599.5 C130.4,599.3 130.8,599.0 131.2,598.7 C131.7,598.3 132.1,597.8 132.5,597.5 C132.9,597.2 133.3,597.1 133.8,597.1 C134.2,597.1 134.6,599.5 135.0,599.5 C135.4,599.5 135.8,599.6 136.2,599.3 C136.7,599.1 137.1,598.2 137.5,598.0 C137.9,597.8 138.3,597.9 138.8,597.9 C139.2,597.9 139.6,600.0 140.0,600.0 C140.4,600.0 140.8,599.4 141.2,599.2 C141.7,599.0 142.1,598.9 142.5,598.8 C142.9,598.6 143.3,598.2 143.8,598.2 C144.2,598.2 144.6,600.0 145.0,600.0 C145.4,600.0 145.7,599.2 146.0,598.8 C146.3,598.3 146.6,601.3 147.0,597.5 C147.4,593.7 147.9,576.2 148.2,576.2 C148.6,576.2 148.8,594.0 149.1,603.1 C149.4,612.3 149.6,631.2 150.0,631.2 C150.4,631.2 151.0,609.8 151.5,605.0 C152.0,600.2 152.5,602.5 153.0,602.5 C153.5,602.5 154.0,620.0 154.5,620.0 C155.0,620.0 155.5,594.6 156.0,587.5 C156.5,580.4 157.1,577.5 157.5,577.5 C157.9,577.5 158.1,578.5 158.4,578.9 C158.7,579.3 158.9,578.5 159.2,580.0 C159.6,581.5 159.9,586.0 160.2,587.6 C160.6,589.3 160.9,588.8 161.2,590.0 C161.6,591.2 161.8,593.3 162.1,595.0 C162.4,596.6 162.7,598.5 163.0,600.0 C163.3,601.5 163.7,602.8 164.0,603.8 C164.3,604.8 164.6,606.2 165.0,606.2 C165.4,606.2 165.8,604.3 166.2,604.3 C166.7,604.3 167.1,604.5 167.5,604.5 C167.9,604.5 168.3,603.6 168.8,603.3 C169.2,602.9 169.6,602.6 170.0,602.5 C170.4,602.4 170.8,602.6 171.2,602.4 C171.7,602.2 172.1,601.6 172.5,601.2 C172.9,600.9 173.3,600.8 173.8,600.6 C174.2,600.3 174.6,600.1 175.0,600.0 C175.4,599.9 175.8,599.9 176.2,599.7 C176.7,599.5 177.1,599.1 177.5,598.8 C177.9,598.4 178.3,598.0 178.8,597.6 C179.2,597.2 179.6,596.8 180.0,596.2 C180.4,595.7 180.8,594.6 181.2,594.2 C181.7,593.8 182.1,593.9 182.5,593.8 C182.9,593.6 183.3,593.8 183.8,593.6 C184.2,593.4 184.6,592.9 185.0,592.5 C185.4,592.1 185.8,591.2 186.2,591.2 C186.7,591.2 187.0,591.2 187.5,591.2 C188.0,591.2 188.6,593.1 189.0,590.0 C189.4,586.9 189.6,572.5 190.0,572.5 C190.4,572.5 191.0,632.5 191.5,632.5 C192.0,632.5 192.3,606.5 192.8,600.0 C193.2,593.5 193.5,593.8 194.0,593.8 C194.5,593.8 195.0,606.2 195.5,606.2 C196.0,606.2 196.6,598.1 197.0,596.2 C197.4,594.4 197.6,596.1 197.9,595.2 C198.2,594.4 198.4,592.1 198.8,591.2 C199.1,590.4 199.6,590.4 200.0,590.2 C200.4,590.0 200.9,590.0 201.2,590.0 C201.6,590.0 201.8,591.8 202.1,592.4 C202.4,593.0 202.7,593.1 203.0,593.8 C203.3,594.4 203.7,595.4 204.0,596.3 C204.3,597.1 204.6,598.1 205.0,598.8 C205.4,599.4 205.8,600.1 206.2,600.1 C206.7,600.1 207.1,600.0 207.5,600.0 C207.9,600.0 208.3,599.9 208.8,600.1 C209.2,600.4 209.6,600.7 210.0,601.2 C210.4,601.8 210.8,602.9 211.2,603.3 C211.7,603.7 212.1,603.8 212.5,603.8 C212.9,603.8 213.3,603.2 213.8,603.0 C214.2,602.8 214.6,602.6 215.0,602.5 C215.4,602.4 215.8,602.7 216.2,602.3 C216.7,601.8 217.1,600.4 217.5,600.0 C217.9,599.6 218.3,600.1 218.8,599.9 C219.2,599.7 219.6,599.0 220.0,598.8 C220.4,598.5 220.8,598.6 221.2,598.5 C221.7,598.4 222.1,598.3 222.5,598.0 C222.9,597.7 223.3,596.8 223.8,596.5 C224.2,596.2 224.6,596.3 225.0,596.2 C225.4,596.2 225.8,596.4 226.2,596.2 C226.7,596.0 227.1,595.4 227.5,595.0 C227.9,594.6 228.3,593.8 228.8,593.8 C229.2,593.8 229.6,593.8 230.0,593.8 C230.4,593.8 230.7,593.3 231.0,592.9 C231.3,592.5 231.7,593.8 232.0,591.2 C232.3,588.7 232.6,577.5 233.0,577.5 C233.4,577.5 233.8,622.5 234.2,622.5 C234.7,622.5 235.0,600.0 235.5,600.0 C236.0,600.0 236.6,602.5 237.0,602.5 C237.4,602.5 237.6,601.7 237.9,600.7 C238.2,599.6 238.4,597.1 238.8,596.2 C239.1,595.4 239.6,595.5 240.0,595.3 C240.4,595.1 240.8,595.0 241.2,595.0 C241.7,595.0 242.1,596.3 242.5,596.7 C242.9,597.1 243.3,597.5 243.8,597.5 C244.2,597.5 244.6,596.7 245.0,596.0 C245.4,595.4 245.8,593.8 246.2,593.8 C246.7,593.8 247.1,594.8 247.5,595.2 C247.9,595.6 248.3,595.6 248.8,596.2 C249.2,596.9 249.6,598.1 250.0,598.9 C250.4,599.8 250.8,601.2 251.2,601.2 C251.7,601.2 252.1,600.1 252.5,599.5 C252.9,598.9 253.3,598.1 253.8,597.5 C254.2,596.9 254.6,596.2 255.0,595.8 C255.4,595.4 255.8,595.0 256.2,595.0 C256.7,595.0 257.1,595.4 257.5,596.1 C257.9,596.7 258.3,598.3 258.8,598.8 C259.2,599.2 259.6,598.8 260.0,599.1 C260.4,599.3 260.8,600.0 261.2,600.0 C261.7,600.0 262.1,600.8 262.5,596.2 C262.9,591.7 263.3,572.5 263.8,572.5 C264.2,572.5 264.8,637.5 265.2,637.5 C265.7,637.5 266.1,601.2 266.5,601.2 C266.9,601.2 267.2,608.8 267.5,608.8 C267.8,608.8 268.2,596.2 268.5,596.2 C268.8,596.2 269.1,608.8 269.5,608.8 C269.9,608.8 270.4,596.6 270.8,593.8 C271.1,590.9 271.3,592.6 271.6,591.7 C271.9,590.9 272.1,589.5 272.5,588.8 C272.9,588.0 273.4,587.5 273.8,587.5 C274.1,587.5 274.3,590.8 274.6,591.8 C274.9,592.9 275.2,593.1 275.5,593.8 C275.8,594.4 276.2,595.4 276.5,595.8 C276.8,596.2 277.1,596.0 277.5,596.2 C277.9,596.5 278.3,597.1 278.8,597.1 C279.2,597.1 279.6,596.2 280.0,596.2 C280.4,596.2 280.7,598.1 281.0,598.7 C281.3,599.4 281.6,600.0 282.0,600.0 C282.4,600.0 282.8,599.9 283.2,599.6 C283.7,599.2 284.1,598.0 284.5,598.0 C284.9,598.0 285.3,598.8 285.8,599.1 C286.2,599.5 286.6,600.0 287.0,600.0 C287.4,600.0 287.8,600.2 288.2,600.0 C288.7,599.8 289.1,598.8 289.5,598.8 C289.9,598.8 290.1,601.3 290.4,601.8 C290.7,602.3 290.9,602.0 291.2,602.0 C291.6,602.0 292.1,601.1 292.5,600.7 C292.9,600.4 293.3,600.0 293.8,600.0 C294.2,600.0 294.6,599.9 295.0,600.1 C295.4,600.3 295.8,601.2 296.2,601.2 C296.7,601.2 297.1,601.7 297.5,601.2 C297.9,600.7 298.3,598.0 298.8,598.0 C299.2,598.0 299.6,598.9 300.0,599.2 C300.4,599.5 300.8,599.8 301.2,600.0 C301.7,600.2 302.1,600.2 302.5,600.2 C302.9,600.2 303.4,599.2 303.8,598.8 C304.1,598.3 304.3,598.2 304.6,597.6 C304.9,596.9 305.1,599.2 305.5,595.0 C305.9,590.8 306.3,572.5 306.8,572.5 C307.2,572.5 307.8,628.8 308.2,628.8 C308.7,628.8 309.1,597.5 309.5,597.5 C309.9,597.5 310.1,606.2 310.5,606.2 C310.9,606.2 311.3,597.5 311.8,597.5 C312.2,597.5 312.6,642.5 313.0,642.5 C313.4,642.5 313.8,562.5 314.2,562.5 C314.7,562.5 315.1,577.5 315.5,577.5 C315.9,577.5 316.3,548.8 316.8,548.8 C317.2,548.8 317.5,564.4 318.0,570.0 C318.5,575.6 319.1,579.3 319.5,582.5 C319.9,585.7 320.1,586.6 320.4,589.1 C320.7,591.6 321.0,595.0 321.2,597.5 C321.5,600.0 321.8,602.4 322.1,603.8 C322.4,605.3 322.7,605.2 323.0,606.2 C323.3,607.3 323.7,609.3 324.0,610.2 C324.3,611.0 324.7,610.9 325.0,611.2 C325.3,611.6 325.7,611.8 326.0,612.0 C326.3,612.2 326.7,612.2 327.0,612.5 C327.3,612.8 327.7,613.8 328.0,614.1 C328.3,614.4 328.6,614.5 329.0,614.5 C329.4,614.5 329.8,612.7 330.1,611.7 C330.5,610.8 330.9,609.7 331.2,608.8 C331.6,607.8 332.1,606.8 332.5,606.2 C332.9,605.5 333.3,605.3 333.8,605.0 C334.2,604.7 334.6,604.5 335.0,604.3 C335.4,604.1 335.8,604.1 336.2,603.8 C336.7,603.4 337.1,602.8 337.5,602.2 C337.9,601.5 338.3,600.5 338.8,600.0 C339.2,599.5 339.6,599.6 340.0,599.0 C340.4,598.4 340.8,597.1 341.2,596.2 C341.7,595.4 342.1,594.7 342.5,593.7 C342.9,592.7 343.3,593.5 343.8,590.0 C344.2,586.5 344.5,572.5 345.0,572.5 C345.5,572.5 346.0,626.2 346.5,626.2 C347.0,626.2 347.3,597.5 347.8,597.5 C348.2,597.5 348.5,600.0 349.0,600.0 C349.5,600.0 350.1,593.8 350.5,593.8 C350.9,593.8 351.2,594.6 351.5,595.0 C351.8,595.5 352.2,596.2 352.5,596.2 C352.8,596.2 353.1,594.0 353.4,592.3 C353.7,590.7 353.9,586.2 354.2,586.2 C354.6,586.2 354.9,586.1 355.2,586.3 C355.6,586.5 355.9,586.8 356.2,587.5 C356.6,588.2 356.8,589.8 357.1,590.6 C357.4,591.5 357.7,591.7 358.0,592.5 C358.3,593.3 358.7,594.6 359.0,595.3 C359.3,595.9 359.6,595.9 360.0,596.2 C360.4,596.6 360.8,596.8 361.2,597.3 C361.7,597.7 362.1,598.8 362.5,598.8 C362.9,598.8 363.3,597.9 363.8,597.9 C364.2,597.9 364.6,599.5 365.0,600.0 C365.4,600.5 365.7,600.5 366.0,601.1 C366.3,601.8 366.7,603.8 367.0,603.8 C367.3,603.8 367.7,603.4 368.0,603.1 C368.3,602.8 368.6,602.5 369.0,602.0 C369.4,601.5 369.8,600.9 370.1,600.2 C370.5,599.4 370.9,597.5 371.2,597.5 C371.6,597.5 371.8,600.2 372.1,601.0 C372.4,601.7 372.7,602.0 373.0,602.0 C373.3,602.0 373.7,600.5 374.0,600.2 C374.3,599.9 374.6,600.0 375.0,600.0 C375.4,600.0 375.8,600.4 376.2,600.6 C376.7,600.8 377.1,601.2 377.5,601.2 C377.9,601.2 378.3,601.2 378.8,600.9 C379.2,600.6 379.5,600.9 380.0,599.5 C380.5,598.1 381.1,596.8 381.5,592.5 C381.9,588.2 382.1,573.8 382.5,573.8 C382.9,573.8 383.5,635.0 384.0,635.0 C384.5,635.0 384.8,597.5 385.2,597.5 C385.7,597.5 386.1,596.5 386.5,598.8 C386.9,601.0 387.3,611.2 387.8,611.2 C388.2,611.2 388.6,596.2 389.0,596.2 C389.4,596.2 389.8,596.5 390.1,596.7 C390.5,597.0 390.9,597.5 391.2,597.5 C391.6,597.5 392.1,593.7 392.5,593.7 C392.9,593.7 393.3,593.5 393.8,593.8 C394.2,594.0 394.6,595.0 395.0,595.0 C395.4,595.0 395.8,595.0 396.2,595.0 C396.7,595.0 397.1,596.2 397.5,596.2 C397.9,596.2 398.3,593.8 398.8,593.8 C399.2,593.8 399.6,596.2 400.0,597.1 C400.4,597.9 400.8,598.8 401.2,598.8 C401.7,598.8 402.1,597.4 402.5,597.1 C402.9,596.8 403.3,597.0 403.8,597.0 C404.2,597.0 404.6,597.7 405.0,598.2 C405.4,598.7 405.8,600.0 406.2,600.0 C406.7,600.0 407.1,599.3 407.5,598.9 C407.9,598.5 408.3,597.5 408.8,597.5 C409.2,597.5 409.6,599.7 410.0,599.7 C410.4,599.7 410.8,598.6 411.2,598.0 C411.7,597.4 412.1,597.1 412.5,596.4 C412.9,595.7 413.3,593.8 413.8,593.8 C414.2,593.8 414.6,594.7 415.0,595.1 C415.4,595.5 415.8,596.0 416.2,596.2 C416.7,596.5 417.1,596.9 417.5,596.9 C417.9,596.9 418.3,595.0 418.8,595.0 C419.2,595.0 419.6,596.9 420.0,597.5 C420.4,598.1 420.8,598.3 421.2,598.7 C421.7,599.1 422.1,600.0 422.5,600.0 C422.9,600.0 423.2,600.2 423.5,599.6 C423.8,599.0 424.2,600.6 424.5,596.2 C424.8,591.9 425.1,573.8 425.5,573.8 C425.9,573.8 426.5,626.2 427.0,626.2 C427.5,626.2 427.9,600.0 428.2,600.0 C428.6,600.0 428.8,600.3 429.1,600.7 C429.4,601.1 429.6,602.5 430.0,602.5 C430.4,602.5 431.1,600.0 431.5,600.0 C431.9,600.0 432.1,613.8 432.5,613.8 C432.9,613.8 433.3,595.6 433.8,590.0 C434.2,584.4 434.5,580.0 435.0,580.0 C435.5,580.0 436.0,585.2 436.5,587.5 C437.0,589.8 437.6,592.3 438.0,593.8 C438.4,595.2 438.7,595.5 439.0,596.5 C439.3,597.5 439.6,600.0 440.0,600.0 C440.4,600.0 440.8,600.2 441.2,600.0 C441.7,599.7 442.1,598.8 442.5,598.8 C442.9,598.8 443.3,601.6 443.8,602.4 C444.2,603.2 444.6,603.3 445.0,603.8 C445.4,604.2 445.8,604.9 446.2,605.1 C446.7,605.4 447.1,605.5 447.5,605.5 C447.9,605.5 448.3,604.7 448.8,604.2 C449.2,603.7 449.6,602.5 450.0,602.5 C450.4,602.5 450.8,602.3 451.2,602.9 C451.7,603.5 452.1,606.2 452.5,606.2 C452.9,606.2 453.3,603.6 453.8,602.6 C454.2,601.5 454.6,601.0 455.0,600.0 C455.4,599.0 455.8,597.4 456.2,596.4 C456.7,595.3 457.1,593.8 457.5,593.8 C457.9,593.8 458.2,594.6 458.5,595.2 C458.8,595.8 459.1,597.5 459.5,597.5 C459.9,597.5 460.3,597.1 460.8,596.7 C461.2,596.3 461.6,595.0 462.0,595.0 C462.4,595.0 462.8,595.1 463.2,595.4 C463.7,595.6 464.1,596.2 464.5,596.2 C464.9,596.2 465.3,595.6 465.8,595.0 C466.2,594.4 466.6,593.8 467.0,592.5 C467.4,591.2 467.9,590.8 468.2,587.5 C468.6,584.2 468.8,572.5 469.2,572.5 C469.7,572.5 470.3,638.8 470.8,638.8 C471.2,638.8 471.6,597.5 472.0,597.5 C472.4,597.5 472.6,607.5 473.0,607.5 C473.4,607.5 473.9,585.0 474.2,585.0 C474.6,585.0 474.9,587.1 475.2,588.2 C475.6,589.2 475.9,591.2 476.2,591.2 C476.6,591.2 476.8,590.2 477.1,589.7 C477.4,589.3 477.7,588.8 478.0,588.8 C478.3,588.8 478.7,589.7 479.0,590.1 C479.3,590.5 479.6,590.8 480.0,591.2 C480.4,591.7 480.8,592.4 481.2,592.8 C481.7,593.3 482.1,593.3 482.5,593.8 C482.9,594.2 483.3,595.3 483.8,595.7 C484.2,596.1 484.6,595.9 485.0,596.2 C485.4,596.6 485.8,597.1 486.2,597.7 C486.7,598.4 487.1,600.0 487.5,600.0 C487.9,600.0 488.3,599.4 488.8,599.2 C489.2,599.0 489.6,598.8 490.0,598.8 C490.4,598.8 490.8,599.3 491.2,600.2 C491.7,601.0 492.1,603.1 492.5,603.8 C492.9,604.4 493.3,603.8 493.8,603.8 C494.2,603.8 494.6,601.2 495.0,601.2 C495.4,601.2 495.8,601.8 496.2,601.8 C496.7,601.8 497.1,600.6 497.5,600.0 C497.9,599.4 498.3,598.6 498.8,598.0 C499.2,597.4 499.6,596.2 500.0,596.2 C500.4,596.2 500.8,596.7 501.2,597.1 C501.7,597.5 502.1,598.8 502.5,598.8 C502.9,598.8 503.3,597.1 503.8,597.1 C504.2,597.1 504.6,597.2 505.0,597.5 C505.4,597.8 505.8,598.5 506.2,598.9 C506.7,599.3 507.1,600.0 507.5,600.0 C507.9,600.0 508.2,598.9 508.5,598.3 C508.8,597.7 509.1,597.0 509.5,596.2 C509.9,595.5 510.6,597.3 511.0,593.8 C511.4,590.2 511.6,575.0 512.0,575.0 C512.4,575.0 513.0,631.2 513.5,631.2 C514.0,631.2 514.3,600.0 514.8,600.0 C515.2,600.0 515.6,650.0 516.0,650.0 C516.4,650.0 516.9,582.5 517.2,565.0 C517.6,547.5 517.9,545.0 518.2,545.0 C518.6,545.0 519.1,570.0 519.5,570.0 C519.9,570.0 520.1,562.5 520.5,562.5 C520.9,562.5 521.4,579.9 521.8,585.0 C522.1,590.1 522.3,590.9 522.6,593.0 C522.9,595.1 523.2,596.0 523.5,597.5 C523.8,599.0 524.2,600.4 524.5,601.7 C524.8,603.0 525.2,604.7 525.5,605.5 C525.8,606.3 526.2,606.0 526.5,606.5 C526.8,607.0 527.1,608.8 527.5,608.8 C527.9,608.8 528.3,604.9 528.8,604.9 C529.2,604.9 529.6,605.0 530.0,605.0 C530.4,605.0 530.8,604.5 531.2,603.6 C531.7,602.8 532.1,600.0 532.5,600.0 C532.9,600.0 533.3,601.0 533.8,601.4 C534.2,601.8 534.6,602.5 535.0,602.5 C535.4,602.5 535.8,599.1 536.2,598.1 C536.7,597.0 537.1,596.2 537.5,596.2 C537.9,596.2 538.3,596.8 538.8,597.0 C539.2,597.2 539.6,597.5 540.0,597.5 C540.4,597.5 540.8,594.5 541.2,593.7 C541.7,592.9 542.1,592.5 542.5,592.5 C542.9,592.5 543.3,597.2 543.8,597.2 C544.2,597.2 544.6,596.2 545.0,596.2 C545.4,596.2 545.8,598.4 546.2,599.0 C546.7,599.6 547.1,600.0 547.5,600.0 C547.9,600.0 548.3,600.0 548.8,599.8 C549.2,599.6 549.6,599.2 550.0,598.8 C550.4,598.3 550.7,597.8 551.0,597.4 C551.3,596.9 551.6,596.9 552.0,596.2 C552.4,595.6 552.9,597.3 553.2,593.8 C553.6,590.2 553.8,575.0 554.2,575.0 C554.7,575.0 555.3,633.8 555.8,633.8 C556.2,633.8 556.6,606.2 557.0,600.0 C557.4,593.8 557.8,596.2 558.2,596.2 C558.7,596.2 559.1,602.5 559.5,602.5 C559.9,602.5 560.1,597.9 560.4,596.4 C560.7,595.0 561.0,594.5 561.2,593.8 C561.5,593.0 561.8,592.4 562.1,591.8 C562.4,591.1 562.7,590.0 563.0,590.0 C563.3,590.0 563.7,589.6 564.0,590.0 C564.3,590.4 564.6,591.9 565.0,592.5 C565.4,593.1 565.8,593.4 566.2,593.6 C566.7,593.8 567.1,593.8 567.5,593.8 C567.9,593.8 568.3,592.7 568.8,592.7 C569.2,592.7 569.6,594.5 570.0,595.0 C570.4,595.5 570.8,595.3 571.2,595.8 C571.7,596.3 572.1,597.2 572.5,598.0 C572.9,598.8 573.3,600.1 573.8,600.6 C574.2,601.1 574.6,601.0 575.0,601.2 C575.4,601.5 575.8,601.9 576.2,601.9 C576.7,601.9 577.1,600.0 577.5,600.0 C577.9,600.0 578.3,600.3 578.8,600.9 C579.2,601.6 579.6,603.8 580.0,603.8 C580.4,603.8 580.8,601.7 581.2,601.3 C581.7,600.9 582.1,601.3 582.5,601.2 C582.9,601.2 583.3,601.1 583.8,600.7 C584.2,600.3 584.6,599.2 585.0,598.8 C585.4,598.3 585.8,598.6 586.2,598.2 C586.7,597.8 587.1,596.9 587.5,596.2 C587.9,595.6 588.3,594.6 588.8,594.2 C589.2,593.8 589.6,593.8 590.0,593.8 C590.4,593.8 590.8,593.8 591.2,594.1 C591.7,594.4 592.1,595.5 592.5,595.5 C592.9,595.5 593.4,593.6 593.8,591.2 C594.1,588.9 594.3,581.2 594.8,581.2 C595.2,581.2 595.8,626.2 596.2,626.2 C596.7,626.2 597.0,609.8 597.5,605.0 C598.0,600.2 598.5,597.5 599.0,597.5 C599.5,597.5 600.0,631.2 600.5,631.2 C601.0,631.2 601.3,599.6 601.8,590.0 C602.2,580.4 602.6,573.8 603.0,573.8 C603.4,573.8 603.8,582.5 604.2,582.5 C604.7,582.5 605.0,573.8 605.5,573.8 C606.0,573.8 606.6,582.7 607.0,585.0 C607.4,587.3 607.7,586.5 608.0,587.6 C608.3,588.6 608.6,590.2 609.0,591.2 C609.4,592.3 609.8,592.8 610.1,594.0 C610.5,595.3 610.9,597.7 611.2,598.8 C611.6,599.8 612.1,599.5 612.5,600.1 C612.9,600.7 613.3,601.8 613.8,602.5 C614.2,603.2 614.6,604.5 615.0,604.5 C615.4,604.5 615.8,604.5 616.2,604.5 C616.7,604.5 617.1,604.7 617.5,604.7 C617.9,604.7 618.4,603.8 618.8,603.8 C619.1,603.8 619.3,604.1 619.6,604.1 C619.9,604.1 620.1,602.1 620.5,601.2 C620.9,600.4 621.6,598.8 622.0,598.8 C622.4,598.8 622.6,599.9 622.9,600.6 C623.2,601.2 623.4,601.9 623.8,602.5 C624.1,603.1 624.6,603.4 625.0,603.9 C625.4,604.4 625.8,605.5 626.2,605.5 C626.7,605.5 627.1,604.1 627.5,603.8 C627.9,603.5 628.3,605.4 628.8,603.8 C629.2,602.1 629.6,598.3 630.0,593.8 C630.4,589.2 630.8,576.2 631.2,576.2 C631.7,576.2 632.2,627.5 632.8,627.5 C633.2,627.5 633.8,607.5 634.2,602.5 C634.8,597.5 635.4,598.7 635.8,597.5 C636.1,596.3 636.3,596.2 636.6,595.5 C636.9,594.9 637.2,594.1 637.5,593.8 C637.8,593.4 638.2,593.6 638.5,593.6 C638.8,593.6 639.2,595.5 639.5,595.5 C639.8,595.5 640.1,592.9 640.4,592.3 C640.7,591.7 641.0,592.0 641.2,592.0 C641.5,592.0 641.8,593.6 642.1,594.1 C642.4,594.6 642.7,595.0 643.0,595.0 C643.3,595.0 643.7,594.9 644.0,594.3 C644.3,593.7 644.6,591.2 645.0,591.2 C645.4,591.2 645.8,593.6 646.2,594.4 C646.7,595.3 647.1,595.9 647.5,596.2 C647.9,596.6 648.3,596.4 648.8,596.4 C649.2,596.4 649.6,594.5 650.0,594.5 C650.4,594.5 650.8,595.7 651.2,596.2 C651.7,596.7 652.1,597.5 652.5,597.5 C652.9,597.5 653.3,596.5 653.8,596.3 C654.2,596.1 654.6,596.2 655.0,596.2 C655.4,596.2 655.8,597.6 656.2,598.2 C656.7,598.8 657.1,600.0 657.5,600.0 C657.9,600.0 658.3,599.0 658.8,598.7 C659.2,598.4 659.6,598.0 660.0,598.0 C660.4,598.0 660.8,597.8 661.2,598.1 C661.7,598.4 662.1,600.0 662.5,600.0 C662.9,600.0 663.3,599.3 663.8,599.3 C664.2,599.3 664.6,601.2 665.0,601.2 C665.4,601.2 665.8,599.2 666.2,599.2 C666.7,599.2 667.1,599.5 667.5,599.5 C667.9,599.5 668.2,597.6 668.5,596.6 C668.8,595.7 669.1,597.0 669.5,593.8 C669.9,590.5 670.3,577.0 670.8,577.0 C671.2,577.0 671.8,625.0 672.2,625.0 C672.7,625.0 673.0,596.2 673.5,596.2 C674.0,596.2 674.5,600.0 675.0,600.0 C675.5,600.0 676.1,593.8 676.5,593.8 C676.9,593.8 677.2,594.7 677.6,595.1 C678.0,595.5 678.4,596.2 678.8,596.2 C679.1,596.2 679.6,595.0 680.0,594.6 C680.4,594.2 680.8,593.8 681.2,593.8 C681.7,593.8 682.1,596.1 682.5,596.8 C682.9,597.4 683.3,597.5 683.8,597.5 C684.2,597.5 684.6,597.0 685.0,596.6 C685.4,596.3 685.8,595.5 686.2,595.5 C686.7,595.5 687.1,597.5 687.5,598.2 C687.9,599.0 688.3,599.6 688.8,600.0 C689.2,600.4 689.6,600.3 690.0,600.3 C690.4,600.3 690.8,598.8 691.2,598.8 C691.7,598.8 692.1,598.9 692.5,599.3 C692.9,599.8 693.3,601.2 693.8,601.2 C694.2,601.2 694.6,599.0 695.0,599.0 C695.4,599.0 695.8,599.5 696.2,600.0 C696.7,600.5 697.1,601.6 697.5,602.1 C697.9,602.6 698.3,603.0 698.8,603.0 C699.2,603.0 699.6,601.4 700.0,600.9 C700.4,600.4 700.9,600.4 701.2,600.0 C701.6,599.6 701.8,599.4 702.1,598.5 C702.4,597.7 702.6,595.0 703.0,595.0 C703.4,595.0 704.0,600.0 704.5,600.0 C705.0,600.0 705.6,595.1 706.0,592.5 C706.4,589.9 706.6,584.5 707.0,584.5 C707.4,584.5 708.0,621.2 708.5,621.2 C709.0,621.2 709.3,604.6 709.8,600.0 C710.2,595.4 710.9,593.8 711.2,593.8 C711.6,593.8 711.8,595.3 712.1,595.9 C712.4,596.5 712.7,597.5 713.0,597.5 C713.3,597.5 713.7,597.1 714.0,596.4 C714.3,595.8 714.6,594.2 715.0,593.8 C715.4,593.3 715.8,593.9 716.2,593.7 C716.7,593.5 717.1,593.2 717.5,592.5 C717.9,591.8 718.1,589.3 718.4,589.3 C718.7,589.3 718.9,589.0 719.2,589.5 C719.6,590.0 719.9,591.5 720.2,592.2 C720.6,592.9 720.9,593.4 721.2,593.8 C721.6,594.1 722.1,594.0 722.5,594.5 C722.9,594.9 723.3,595.8 723.8,596.2 C724.2,596.7 724.6,596.5 725.0,596.9 C725.4,597.3 725.8,598.8 726.2,598.8 C726.7,598.8 727.1,598.0 727.5,597.8 C727.9,597.6 728.3,597.5 728.8,597.5 C729.2,597.5 729.6,598.9 730.0,599.4 C730.4,599.8 730.8,600.0 731.2,600.0 C731.7,600.0 732.1,600.0 732.5,599.7 C732.9,599.4 733.3,598.0 733.8,598.0 C734.2,598.0 734.6,599.9 735.0,600.4 C735.4,601.0 735.9,601.2 736.2,601.2 C736.6,601.2 736.9,599.3 737.2,599.3 C737.6,599.3 737.9,600.0 738.2,600.0 C738.6,600.0 738.8,597.4 739.1,596.4 C739.4,595.4 739.6,597.3 740.0,593.8 C740.4,590.2 741.0,575.0 741.5,575.0 C742.0,575.0 742.5,635.0 743.0,635.0 C743.5,635.0 743.8,598.8 744.2,598.8 C744.7,598.8 745.4,601.2 745.8,601.2 C746.1,601.2 746.3,597.3 746.6,596.2 C746.9,595.2 747.1,595.0 747.5,595.0 C747.9,595.0 748.3,595.8 748.8,596.2 C749.2,596.6 749.6,597.5 750.0,597.5 C750.4,597.5 750.8,597.0 751.2,596.5 C751.7,596.0 752.1,594.5 752.5,594.5 C752.9,594.5 753.3,594.7 753.8,595.1 C754.2,595.6 754.6,597.0 755.0,597.0 C755.4,597.0 755.8,596.5 756.2,596.2 C756.7,595.9 757.1,595.0 757.5,595.0 C757.9,595.0 758.3,596.2 758.8,596.7 C759.2,597.2 759.6,598.0 760.0,598.0 C760.4,598.0 760.8,598.2 761.2,597.9 C761.7,597.6 762.1,596.2 762.5,596.2 C762.9,596.2 763.3,596.4 763.8,596.8 C764.2,597.3 764.6,598.8 765.0,598.8 C765.4,598.8 765.8,597.0 766.2,596.5 C766.7,595.9 767.1,595.5 767.5,595.5 C767.9,595.5 768.3,596.0 768.8,596.5 C769.2,597.1 769.6,598.3 770.0,598.8 C770.4,599.2 770.8,599.3 771.2,599.3 C771.7,599.3 772.1,597.0 772.5,597.0 C772.9,597.0 773.3,598.9 773.8,599.4 C774.2,599.9 774.6,600.0 775.0,600.0 C775.4,600.0 775.8,599.2 776.2,598.9 C776.7,598.6 777.1,598.0 777.5,598.0 C777.9,598.0 778.3,599.3 778.8,599.8 C779.2,600.3 779.6,601.2 780.0,601.2 C780.4,601.2 780.8,600.9 781.2,600.7 C781.7,600.5 782.0,600.7 782.5,600.0 C783.0,599.3 783.5,601.3 784.0,596.2 C784.5,591.2 784.9,569.5 785.2,569.5 C785.6,569.5 785.8,594.7 786.1,607.2 C786.4,619.7 786.6,644.5 787.0,644.5 C787.4,644.5 787.8,601.2 788.2,601.2 C788.7,601.2 789.1,606.2 789.5,606.2 C789.9,606.2 790.3,599.9 790.8,596.2 C791.2,592.6 791.8,584.5 792.0,584.5" fill="none" stroke="#1a861e" stroke-width="1.4" stroke-linejoin="round" stroke-linecap="round"/>
<path transform="translate(45.4,549.2) scale(0.01069,-0.01069)" d="M763 0H583V1147Q518 1085 412.5 1023T223 930V1104Q373 1174.5 485 1275T644 1466H763Z" fill="#111"/><text x="57.58" y="549.2" font-size="21.9" text-anchor="start" fill="#111" >b</text>
<path d="M575.3,673.5 V640.9 H731" fill="none" stroke="#0a0a0a" stroke-width="2"/>
<text x="505.2" y="662.3" font-size="20" text-anchor="start" fill="#111" >20 µV</text>
<text x="615.6" y="663.6" font-size="20.2" text-anchor="start" fill="#111" >2 s</text>
<path d="M107.5,703.1 V815.9 M96.5,815.9 H175.5 M96.5,703.1 H107.5 M96.5,740.7 H107.5 M96.5,778.3 H107.5" fill="none" stroke="#0a0a0a" stroke-width="2.0"/>
<text x="86.2" y="710.1" font-size="19.6" text-anchor="end" fill="#111" >24</text>
<text x="86.2" y="747.7" font-size="19.6" text-anchor="end" fill="#111" >16</text>
<text x="86.2" y="785.3" font-size="19.6" text-anchor="end" fill="#111" >8</text>
<text x="86.2" y="822.9" font-size="19.6" text-anchor="end" fill="#111" >0</text>
<rect x="130.3" y="738.3" width="21.0" height="77.60000000000002" fill="#0202fc"/>
<path d="M141,738.3 V716.3 M135,716.3 H147.5" fill="none" stroke="#0202fc" stroke-width="2.1"/>
<text x="143.7" y="834.5" font-size="19.6" text-anchor="middle" fill="#111" >P</text>
<text transform="translate(54.7,757.3) rotate(-90)" font-size="22.6" text-anchor="middle" fill="#111">Episode duration (s)</text>
<text x="-1" y="701" font-size="21.5" text-anchor="start" fill="#111" >C</text>
<path d="M256.3,703.5 V814.8 M245.60000000000002,814.8 H324 M245.60000000000002,703.5 H256.3 M245.60000000000002,731.1 H256.3 M245.60000000000002,759 H256.3 M245.60000000000002,786.8 H256.3" fill="none" stroke="#0a0a0a" stroke-width="2.0"/>
<text x="233.3" y="711.2" font-size="21.5" text-anchor="end" fill="#111" >40</text>
<text x="233.3" y="738.8" font-size="21.5" text-anchor="end" fill="#111" >30</text>
<text x="233.3" y="766.7" font-size="21.5" text-anchor="end" fill="#111" >20</text>
<text x="233.3" y="794.5" font-size="21.5" text-anchor="end" fill="#111" >10</text>
<text x="233.3" y="822.5" font-size="21.5" text-anchor="end" fill="#111" >0</text>
<rect x="280" y="741" width="20.5" height="73.79999999999995" fill="#0202fc"/>
<path d="M290.5,741 V717.5 M284.5,717.5 H296" fill="none" stroke="#0202fc" stroke-width="2.1"/>
<text x="294.2" y="834.3" font-size="19.6" text-anchor="middle" fill="#111" >P</text>
<text transform="translate(201.6,758.5) rotate(-90)" font-size="23.2" text-anchor="middle" fill="#111">Total duration (s)</text>
<path d="M396.3,704.8 V815 M385.3,815 H465 M385.3,704.8 H396.3 M385.3,759.9 H396.3" fill="none" stroke="#0a0a0a" stroke-width="2.0"/>
<text x="373.9" y="712.3" font-size="21" text-anchor="end" fill="#111" >2</text>
<text x="373.9" y="767.4" font-size="21" text-anchor="end" fill="#111" >1</text>
<text x="373.9" y="822.5" font-size="21" text-anchor="end" fill="#111" >0</text>
<rect x="419" y="743" width="21.5" height="72" fill="#0202fc"/>
<path d="M430,743 V723 M424,723 H436" fill="none" stroke="#0202fc" stroke-width="2.1"/>
<text x="440" y="834.3" font-size="19.6" text-anchor="middle" fill="#111" >P</text>
<text transform="translate(355.8,760.5) rotate(-90)" font-size="22.4" text-anchor="middle" fill="#111"># of episodes</text>
<text x="465.7" y="701" font-size="21.8" text-anchor="start" fill="#111" >D</text>
<path d="M588,705.2 V814.9 M577.4,814.9 H640.7 M577.4,705.2 H588 M577.4,741.5 H588 M577.4,778 H588" fill="none" stroke="#0a0a0a" stroke-width="2.0"/>
<text x="565.5" y="712.9" font-size="21.4" text-anchor="end" fill="#111" >1.2</text>
<text x="565.5" y="749.2" font-size="21.4" text-anchor="end" fill="#111" >0.8</text>
<text x="565.5" y="785.7" font-size="21.4" text-anchor="end" fill="#111" >0.4</text>
<text x="565.5" y="822.6" font-size="21.4" text-anchor="end" fill="#111" >0.0</text>
<rect x="606" y="749.9" width="16.200000000000045" height="65.0" fill="#057e05"/>
<path d="M613.9,749.9 V735.4 M608,735.4 H619.8" fill="none" stroke="#057e05" stroke-width="2.1"/>
<text x="620.3" y="834.3" font-size="19.6" text-anchor="middle" fill="#111" >P</text>
<text transform="translate(501.5,756.3) rotate(-90)" font-size="22.6" text-anchor="middle" fill="#111">Spike</text>
<text transform="translate(524.7,753.5) rotate(-90)" font-size="22.5" text-anchor="middle" fill="#111">frequency (Hz)</text>
<path d="M748.5,704.9 V814.1 M737.7,814.1 H800 M737.7,704.9 H748.5 M737.7,741.2 H748.5 M737.7,777.6 H748.5" fill="none" stroke="#0a0a0a" stroke-width="2.0"/>
<text x="725.8" y="712.6" font-size="21.6" text-anchor="end" fill="#111" >60</text>
<text x="725.8" y="748.9" font-size="21.6" text-anchor="end" fill="#111" >40</text>
<text x="725.8" y="785.3" font-size="21.6" text-anchor="end" fill="#111" >20</text>
<text x="725.8" y="821.8" font-size="21.6" text-anchor="end" fill="#111" >0</text>
<rect x="765.8" y="738.9" width="15.700000000000045" height="75.20000000000005" fill="#057e05"/>
<path d="M773.7,738.9 V734.1 M768,734.1 H779.7" fill="none" stroke="#057e05" stroke-width="2.1"/>
<text x="780.5" y="834.3" font-size="19.6" text-anchor="middle" fill="#111" >P</text>
<text transform="translate(663.3,754.8) rotate(-90)" font-size="22.6" text-anchor="middle" fill="#111">Spike</text>
<text transform="translate(688,751.8) rotate(-90)" font-size="22.5" text-anchor="middle" fill="#111">amplitude (uV)</text>
<path d="M226,875.7 V1003.7 M215.5,1003.7 H340 M215.5,875.7 H226 M215.5,896.8 H226 M215.5,918.2 H226 M215.5,939.6 H226 M215.5,961 H226 M215.5,982.3 H226" fill="none" stroke="#0a0a0a" stroke-width="2.0"/>
<text x="205" y="882.5" font-size="19" text-anchor="end" fill="#111" >300</text>
<text x="205" y="903.6" font-size="19" text-anchor="end" fill="#111" >250</text>
<text x="205" y="925.0" font-size="19" text-anchor="end" fill="#111" >200</text>
<text x="205" y="946.4" font-size="19" text-anchor="end" fill="#111" >150</text>
<text x="205" y="967.8" font-size="19" text-anchor="end" fill="#111" >100</text>
<text x="205" y="989.1" font-size="19" text-anchor="end" fill="#111" >50</text>
<text x="205" y="1010.5" font-size="19" text-anchor="end" fill="#111" >0</text>
<rect x="241.7" y="978.7" width="31.30000000000001" height="25.0" fill="#808080"/>
<path d="M257.5,978.7 V974.5 M252,974.5 H263" fill="none" stroke="#808080" stroke-width="2.1"/>
<rect x="293" y="907" width="31.19999999999999" height="96.70000000000005" fill="#820000"/>
<path d="M308.7,907 V893.7 M303,893.7 H314.5" fill="none" stroke="#820000" stroke-width="2.1"/>
<text x="259" y="1027.4" font-size="20.2" text-anchor="middle" fill="#111" >S</text>
<text x="309.8" y="1027.4" font-size="20.2" text-anchor="middle" fill="#111" >P</text>
<path d="M308.85,881.1 l0,-4.9 M308.85,881.1 l-5.0,-1.6 M308.85,881.1 l5.0,-1.6 M308.85,881.1 l-3.3,4.4 M308.85,881.1 l3.3,4.4" stroke="#0a0a0a" stroke-width="2.1" fill="none"/>
<text x="84.3" y="877" font-size="21.8" text-anchor="start" fill="#111" >E</text>
<text transform="translate(139.8,944.3) rotate(-90)" font-size="19.8" text-anchor="middle" fill="#111">Serum Corticosterone</text>
<text transform="translate(161.3,939.6) rotate(-90)" font-size="19.7" text-anchor="middle" fill="#111">(ng/ml)</text>
<path d="M541.7,875.3 V1003.3 M530.7,1003.3 H655.6 M530.7,875.3 H541.7 M530.7,893.4 H541.7 M530.7,911.9 H541.7 M530.7,930 H541.7 M530.7,948.4 H541.7 M530.7,966.7 H541.7 M530.7,985 H541.7" fill="none" stroke="#0a0a0a" stroke-width="2.0"/>
<text x="520.6" y="882.0" font-size="18.8" text-anchor="end" fill="#111" >14</text>
<text x="520.6" y="900.1" font-size="18.8" text-anchor="end" fill="#111" >12</text>
<text x="520.6" y="918.6" font-size="18.8" text-anchor="end" fill="#111" >10</text>
<text x="520.6" y="936.7" font-size="18.8" text-anchor="end" fill="#111" >8</text>
<text x="520.6" y="955.1" font-size="18.8" text-anchor="end" fill="#111" >6</text>
<text x="520.6" y="973.4" font-size="18.8" text-anchor="end" fill="#111" >4</text>
<text x="520.6" y="991.7" font-size="18.8" text-anchor="end" fill="#111" >2</text>
<text x="520.6" y="1010.0" font-size="18.8" text-anchor="end" fill="#111" >0</text>
<rect x="556.7" y="963.7" width="31.299999999999955" height="39.59999999999991" fill="#808080"/>
<path d="M572.5,963.7 V960.5 M567,960.5 H578" fill="none" stroke="#808080" stroke-width="2.1"/>
<rect x="608" y="904" width="31.700000000000045" height="99.29999999999995" fill="#820000"/>
<path d="M624,904 V892.6 M618.5,892.6 H629.5" fill="none" stroke="#820000" stroke-width="2.1"/>
<text x="574" y="1027.4" font-size="20.2" text-anchor="middle" fill="#111" >S</text>
<text x="628.5" y="1027.4" font-size="20.2" text-anchor="middle" fill="#111" >P</text>
<path d="M623.4,881.6 l0,-4.9 M623.4,881.6 l-5.0,-1.6 M623.4,881.6 l5.0,-1.6 M623.4,881.6 l-3.3,4.4 M623.4,881.6 l3.3,4.4" stroke="#0a0a0a" stroke-width="2.1" fill="none"/>
<text x="409.3" y="877" font-size="21.8" text-anchor="start" fill="#111" >F</text>
<text transform="translate(464.7,937.3) rotate(-90)" font-size="19.8" text-anchor="middle" fill="#111">Serum Aldosterone</text>
<text transform="translate(486,934.5) rotate(-90)" font-size="19.7" text-anchor="middle" fill="#111">(ng/ml)</text>
<text x="670.2" y="883.8" font-size="19.5" text-anchor="start" fill="#111" >P - Propofol</text>
<text x="670.2" y="905.4" font-size="19.5" text-anchor="start" fill="#111" >S - Saline</text>
</svg>
</body></html>
